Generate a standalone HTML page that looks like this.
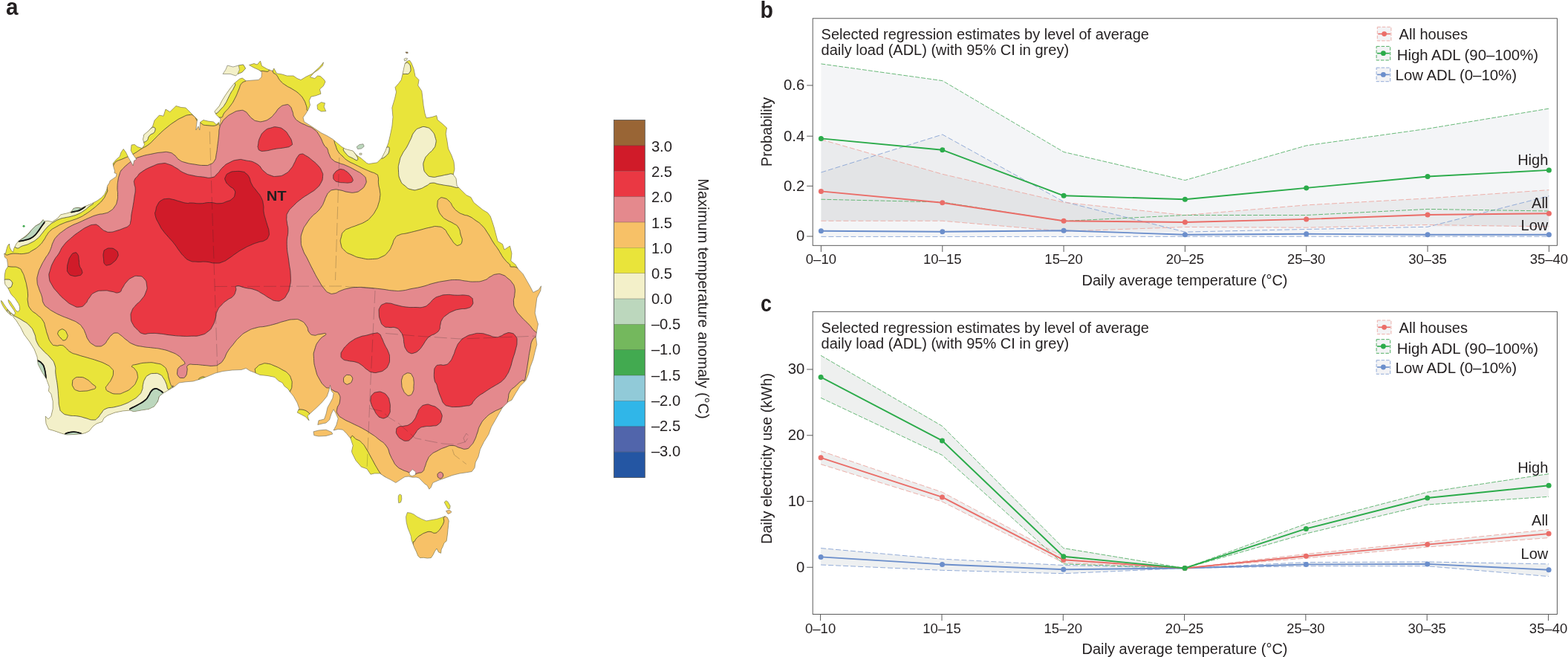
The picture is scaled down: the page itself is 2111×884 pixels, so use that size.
<!DOCTYPE html>
<html lang="en"><head><meta charset="utf-8"><title>Figure</title>
<style>html,body{margin:0;padding:0;background:#fff}body{width:2111px;height:884px;overflow:hidden}svg{display:block}text{font-family:"Liberation Sans","DejaVu Sans",sans-serif;fill:#231f20}</style></head><body>
<svg width="2111" height="884" viewBox="0 0 2111 884">
<rect width="2111" height="884" fill="#fff"/>
<g id="map"><defs><clipPath id="land"><path d="M7.5 341.1 L8.8 335.5 L10.3 330.5 L12.6 328 L13.1 333 L15.1 336.8 L17.6 339.3 L18.8 334.3 L22 328 L25.1 324.2 L31.4 319.8 L37.7 314.8 L42.7 308.9 L47.7 304.1 L54 300.4 L58 295.6 L59.7 297.8 L64.1 297.2 L70.3 298.5 L77.9 293.4 L81.7 288.8 L90.5 286.8 L95.5 285.3 L99.2 280.2 L104.3 279.2 L109.3 280 L114.3 277.7 L123.1 274.2 L130.7 270.2 L136.9 265.8 L140.7 261.4 L143.8 255.1 L144.5 250.1 L147 246.3 L148.2 243.2 L152 240.7 L156.4 237.5 L157 233.8 L153.9 232.5 L154.5 230 L153 225 L152 220 L156.2 215 L161.2 210.5 L163 205 L166.2 200.5 L169.5 205 L172.5 211.2 L176.2 217.5 L179.2 223 L180.5 216.2 L183.8 214.5 L178.8 207.5 L176.2 202.5 L177 195 L181.2 194.5 L185 197.5 L191.2 199.5 L194.5 195 L192.5 187.5 L193.8 181.2 L200 176.2 L205.5 170 L208 162 L214.5 155 L220 156.2 L223 147 L228.8 150.5 L237 142.5 L243.8 144.5 L250 145 L256.2 151.2 L262 157 L265.5 160.5 L264.5 168.8 L263.8 175 L267 170 L268.8 175 L269.5 164.5 L273.8 161.5 L280 163 L287.5 164 L291.2 167.5 L294.5 164.5 L295.5 169.5 L297 160 L291.2 154.5 L288.8 150 L295 143 L298.8 135.5 L303.8 127.5 L310 118.8 L315.5 112 L322.5 106.2 L326.2 105 L331.2 108.8 L340 108 L348 107.5 L352 103.8 L352.5 97 L348 93.8 L342 91.2 L335.5 87.5 L342 85.5 L346.2 87 L350.5 82 L352.5 88.8 L360 93 L367 95.5 L368.8 92 L372.5 98.8 L380 100 L386.2 102 L395 102 L400 105.5 L405 107.5 L412.5 103 L420 99.5 L425 95 L430.5 90 L435.5 83.8 L434.5 88 L428.8 93.8 L422.5 98 L417.5 103.8 L423.8 105.5 L427.5 102 L431.2 102.5 L436.2 107 L438 110 L435.5 115.5 L430.5 120 L432 126.2 L425 128.8 L418.8 130 L416.2 135.5 L417.5 141.2 L415 147.5 L411.2 153.8 L408 158 L409.5 163.8 L416.2 168 L425 173.8 L432.5 178.8 L440 182.5 L447.5 187 L452.5 191.2 L460 197.5 L465 200.5 L475 203 L480 208.8 L486.2 213 L493.8 219.5 L496.5 220.5 L507.8 218.8 L514 212.5 L519 202.5 L522.8 192.5 L525.2 182.5 L527.8 170 L529 157.5 L527.8 145 L531.5 132.5 L533.5 123.8 L532 117.5 L536.5 112.5 L540.2 107.5 L542 100 L543.5 92.5 L545.2 85.5 L547.8 82.5 L551.5 81.2 L554 85 L557 92.5 L559 102.5 L564 107.5 L562.8 115 L567.8 122.5 L569 132.5 L570.2 142.5 L572 152.5 L574 158.8 L581.5 157.5 L587.8 155.5 L589 161.2 L595.2 166.2 L601.5 172 L600.2 180 L602 190 L603.5 200 L607.8 208.8 L611 217.5 L612 227.5 L610.2 235 L614 240 L615.2 250 L621.5 256.2 L627.8 262.5 L634 265.5 L637.8 272.5 L644 277.5 L650.2 282.5 L656.5 286.2 L660.2 291 L662.8 298.5 L665.2 306 L667.8 316 L670.2 324.8 L676.5 328.5 L679 336 L686.5 331 L689 341 L687.8 351 L694 356 L697.8 362.2 L704 368.5 L709 377.2 L714 386 L717.8 393.5 L725.2 389.8 L728.5 384.8 L727.8 391 L722.8 401 L721.5 411 L720.2 421 L722.8 431 L724.5 436 L722.8 444.8 L721.5 453.5 L722.8 463.5 L720.2 473.5 L717.8 483.5 L714 493.5 L711.5 503.5 L707.8 512 L700.2 519.5 L694 529.5 L689 538.2 L684 540.8 L676.5 548.2 L671.5 557 L666.5 565.8 L661.5 574.5 L657.8 584.5 L651.5 594.5 L646.5 604.5 L644 614.5 L640.2 622 L639 629.5 L635.2 634.5 L627.8 635.8 L619 637 L609 639.5 L599 643.2 L591.5 645.8 L582.8 649.5 L580.2 655.8 L577.8 658.2 L575.2 653.2 L571.5 650.8 L567.8 647 L564 643 L560.2 642 L555.2 642.2 L550.2 641 L545.2 641.5 L541.5 643.8 L532.8 649.5 L526.5 645.8 L519 642 L511.5 637 L504 637 L499 638.2 L494 630.8 L486.5 628.2 L479 619.5 L474 609.5 L473.5 607 L475.2 599.5 L472 590 L466.5 583.2 L461.5 578.2 L455.2 577.5 L449 579 L452.8 572 L455.2 563.2 L452 555.8 L449 550.8 L446 557 L443.5 565 L439 569 L434 570 L427.8 571.5 L429 565.8 L436.5 564 L439 557 L441 548.2 L444.5 542 L447.8 535.8 L449 529.5 L446 525.8 L444.5 518.2 L442.8 525.8 L440.2 533.2 L434 540.8 L426.5 548.2 L419 555 L414 559.5 L416 565.8 L411.5 560.8 L405.2 557.5 L400.2 555 L402.8 549.5 L400.2 542 L395.2 533.2 L390.2 527 L387.8 523.2 L382.8 519.5 L380.2 515 L375 512.5 L370 507.5 L360 505.5 L350 504.5 L342.5 501.2 L336.2 498.8 L331.2 495.5 L325 497.5 L312.5 498 L300 499.5 L290 502 L280 506.2 L270 510 L260 513 L250 513.8 L241.2 515 L235 520 L227.5 524.5 L220 528.8 L214.5 533 L212.5 540 L207.5 547 L200 550.5 L190 552 L180 553.8 L175 552 L165 553 L155 555 L145 558.8 L140 562.5 L137.5 567.5 L130 570 L125 573.8 L120 580 L115 582.5 L110 583.8 L100 584.5 L90 585 L82.5 583 L72.5 579.5 L65.5 577.5 L62 570 L61.2 560 L65 563.8 L68.8 560 L71.2 550 L71.2 540 L68.8 530 L65.5 526.2 L66.2 520 L62.5 510 L56.2 500 L51.2 490 L50 480 L46.2 470 L40 460 L32.5 450 L27.5 440 L25.1 436.5 L22 431.4 L18.8 427.7 L17.6 425.2 L15.1 424.5 L11.3 421.4 L7.5 417 L4.4 412.6 L1.9 407.6 L1.3 404.4 L3.1 405.7 L5.7 410.1 L8.8 414.5 L12.6 418.9 L17 422.7 L18.8 423.9 L20.7 421.4 L18.8 417.6 L16.3 413.9 L13.2 409.5 L11.3 405.7 L11.1 403.2 L13.8 405.7 L16.3 409.5 L18.8 413.2 L20.7 416.4 L22 418.3 L24.5 419.5 L26.6 416.4 L26.4 412.6 L25.1 408.8 L22.6 405.1 L20.1 401.3 L17 398.2 L14.4 395 L12.6 391.2 L10.7 387.5 L6.9 382.5 L6 376.8 L6.3 369.9 L7.5 363.6 L10.7 358.6 L10.1 353.6 L9.4 348.5 L6.3 346 L5.7 341Z"/></clipPath></defs>
<g clip-path="url(#land)" stroke="#2a2a2a" stroke-width="0.7" stroke-linejoin="round">
<rect x="0" y="60" width="760" height="640" fill="#f7c167" stroke="none"/>
<path d="M150 223C151.9 229.8 151.8 220.3 156.2 217.5C160.8 214.7 159.4 216.2 165 213.8C170.6 211.3 170.1 211.8 175 209.5C179.9 207.2 176.8 208.9 181.2 206.2C185.8 203.6 184.4 204 190 200.5C195.6 197 194.8 198.4 200 194.5C205.2 190.6 203 191.8 207.5 187.5C212 183.2 209.8 184.9 215 180C220.2 175.1 219 176.1 225 171.2C231 166.4 229 167.7 235 163.8C241 159.8 239 160.8 245 158C251 155.2 250.1 155 255 154.5C259.9 154 257.9 154.2 261.2 156.2C264.6 158.3 265.1 166.1 266.2 161.2C267.4 156.4 277.4 146.4 265 140C252.6 133.6 248.2 132.5 225 140C201.8 147.5 210 148.5 187.5 165C165 181.5 161.2 177.6 150 195C138.8 212.4 148.1 216.2 150 223Z" fill="#e9e43a"/>
<path d="M268.8 160C274.8 158.9 284.3 160.1 291.2 162.5C298.2 164.9 295.4 166.1 292 168C288.6 169.9 286.2 169.3 280 168.8C273.8 168.2 274.6 168.9 271.2 166.2C267.9 163.6 262.8 161.1 268.8 160Z" fill="#e9e43a"/>
<path d="M296.2 158C301.5 158.4 298.4 155.9 302.5 151.2C306.6 146.6 305.9 148.1 310 142.5C314.1 136.9 312.9 138.9 316.2 132.5C319.6 126.1 318.6 127.2 321.2 121.2C323.9 115.2 322 116.6 325 112.5C328 108.4 332 110.5 331.2 107.5C330.5 104.5 331.9 98.8 322.5 102.5C313.1 106.2 311.2 105.8 300 120C288.8 134.2 286.1 138.6 285 150C283.9 161.4 291 157.6 296.2 158Z" fill="#e9e43a"/>
<path d="M332.5 80C339.2 77 346 75.9 355 80C364 84.1 363.2 89.1 362.5 93.8C361.8 98.4 357 95.3 352.5 95.5C348 95.7 353.5 96.2 347.5 94.5C341.5 92.8 337 94.3 332.5 90C328 85.7 325.8 83 332.5 80Z" fill="#e9e43a"/>
<path d="M367 95C368.5 101.4 369.4 97.1 372.5 101.2C375.6 105.4 373.8 104.6 377.5 108.8C381.2 112.9 380.1 111.6 385 115C389.9 118.4 388.5 116.6 393.8 120C399 123.4 398 122.1 402.5 126.2C407 130.4 405.8 128.9 408.8 133.8C411.8 138.6 410.6 137.8 412.5 142.5C414.4 147.2 411.2 147.2 415 149.5C418.8 151.8 416 158.8 425 150C434 141.2 440.5 141 445 120C449.5 99 463.2 92 440 80C416.8 68 389.4 75.5 367.5 80C345.6 84.5 365.5 88.6 367 95Z" fill="#e9e43a"/>
<path d="M18.8 341.1C27.1 341.1 26.4 342.3 33.9 341.1C41.5 339.8 38.3 339.9 44 336.8C49.6 333.6 48.2 334.6 52.8 330.5C57.3 326.4 56 327.1 59 323C62.1 318.8 60.2 320.4 62.8 316.7C65.4 312.9 64.1 313.8 67.8 310.4C71.6 307 70.1 308.4 75.4 305.4C80.7 302.4 79 303 85.4 300.4C91.8 297.7 90.3 298.8 96.7 296.6C103.1 294.3 101.1 295.4 106.8 292.8C112.4 290.2 110.3 291.2 115.6 287.8C120.9 284.4 119.5 285.3 124.4 281.5C129.3 277.7 127.8 279 131.9 275.2C136.1 271.5 135.2 272.7 138.2 268.9C141.2 265.2 140.1 266.8 142 262.7C143.8 258.5 145.6 257.4 144.5 255.1C143.3 252.9 147.6 249.5 138.2 255.1C128.8 260.8 139.5 262.7 113.1 274C86.7 285.3 82.3 277.4 50.2 292.8C18.2 308.3 19.5 311 6.3 325.5C-6.9 340 2.5 336.4 6.3 341.1C10 345.7 10.5 341.1 18.8 341.1Z" fill="#e9e43a"/>
<path d="M397.5 552.5C401.6 550.6 408.5 550 413.8 553.8C419 557.5 419.1 563.1 415 565C410.9 566.9 405.2 563.8 400 560C394.8 556.2 393.4 554.4 397.5 552.5Z" fill="#e9e43a"/>
<path d="M268 511.2C266 510.1 268.8 508.5 271.2 507.5C273.7 506.5 274.2 506.9 276.2 508C278.3 509.1 280.5 510.3 278 511.2C275.5 512.2 270 512.4 268 511.2Z" fill="#e9e43a"/>
<path d="M78 447.5C78.8 445.2 78.8 444.9 81.2 443.8C83.7 442.6 83.6 442.2 86.2 443.8C88.9 445.2 88.7 445.8 90 448.8C91.3 451.8 91.6 451 90.5 453.8C89.4 456.5 88.8 457.6 86.2 458C83.7 458.4 84.2 457 82 455C79.8 453 80 453.5 78.8 451.2C77.5 449 77.2 449.8 78 447.5Z" fill="#e9e43a"/>
<path d="M343.8 500.5C342.6 494.1 343.6 496.9 346.2 493.8C348.9 490.6 348.4 491.4 352.5 490C356.6 488.6 354.8 488.5 360 489.2C365.2 490 364 490 370 492.5C376 495 374.8 494.5 380 497.5C385.2 500.5 383.9 498.8 387.5 502.5C391.1 506.2 390.4 505.5 392 510C393.6 514.5 393.2 513 393 517.5C392.8 522 393.1 521.6 391.2 525C389.4 528.4 391.9 527.2 387 528.8C382.1 530.2 386.1 534.1 375 530C363.9 525.9 359.4 523.9 350 515C340.6 506.1 344.9 506.9 343.8 500.5Z" fill="#e9e43a"/>
<path d="M472 589.5C475 582.4 475.4 589.2 480 591.2C484.6 593.3 483.4 592.1 487.5 596.2C491.6 600.4 490 599 493.8 605C497.5 611 496.2 609.5 500 616.2C503.8 623 502.5 621.1 506.2 627.5C510 633.9 509.1 632.6 512.5 637.5C515.9 642.4 521.2 640.8 517.5 643.8C513.8 646.8 514.2 656.1 500 647.5C485.8 638.9 478.4 632.4 470 615C461.6 597.6 469 596.6 472 589.5Z" fill="#e9e43a"/>
<path d="M450 189.5C450.9 194.4 450.4 192 452 196.2C453.6 200.5 452.6 199.6 455.2 203.8C457.9 207.9 457.1 206.2 461 210C464.9 213.8 463 212.9 468.2 216.3C473.4 219.7 472.2 218.3 478.2 221.4C484.3 224.4 482.3 223.6 488.3 226.4C494.3 229.2 493.1 228.5 498.3 230.8C503.6 233 502.7 231.8 505.9 233.9C509.1 236 507.9 233.5 509 237.7C510.2 241.8 508.9 241.7 509.6 247.7C510.4 253.8 511 252.5 511.5 257.8C512.1 263.1 512.1 260.4 511.5 265.3C511 270.2 511.3 268.8 509.6 274.1C508 279.4 508.9 277.6 505.9 282.9C502.9 288.2 503.7 287.2 499.6 291.7C495.5 296.2 497.7 294.6 492.1 298C486.4 301.4 487.2 300.4 480.8 303C474.3 305.7 476 304.4 470.7 306.8C465.4 309.2 466.5 307.5 463.2 311.1C459.8 314.6 460.8 313.3 459.5 318.5C458.2 323.7 457.6 322.9 459 328.5C460.4 334.1 459.5 332.9 464 337.2C468.5 341.6 467.2 340 474 343C480.8 346 478.2 345.6 486.5 347.2C494.8 348.9 493.2 349 501.5 348.5C509.8 348 507.6 348.5 514 345.5C520.4 342.5 518.6 343.2 522.8 338.5C526.9 333.8 525.1 335 527.8 329.8C530.4 324.5 528.5 325.1 531.5 321C534.5 316.9 532.5 318.2 537.8 316C543 313.8 541.1 315.4 549 313.5C556.9 311.6 555 312 564 309.8C573 307.5 571.5 307.5 579 306C586.5 304.5 583.4 304.1 589 304.8C594.6 305.4 593.6 305 597.8 308C601.9 311 599.8 310.5 602.8 314.8C605.8 319 604.8 318.1 607.8 322.2C610.8 326.4 609.8 326.2 612.8 328.5C615.8 330.8 615 330.9 617.8 329.8C620.5 328.6 621.2 328.9 622 324.8C622.8 320.6 621.8 321.6 620.2 316C618.8 310.4 620 310.6 617 306C614 301.4 614.9 303.5 610.2 300.5C605.6 297.5 606 298.9 601.5 296C597 293.1 598.6 295.1 595.2 291C591.9 286.9 592.1 287.7 590.2 282.5C588.4 277.3 588.6 278.2 589 273.8C589.4 269.2 588.9 269.7 591.5 267.5C594.1 265.3 593.6 265.4 597.8 266.5C601.9 267.6 601.5 267.6 605.2 271.2C609 274.9 606.9 274.6 610.2 278.8C613.6 282.9 612.4 282 616.5 285C620.6 288 619.5 286.9 624 288.8C628.5 290.6 626.6 288.7 631.5 291C636.4 293.3 635 292.8 640.2 296.5C645.5 300.2 644.1 298.4 649 303.5C653.9 308.6 652 306.8 656.5 313.5C661 320.2 659.9 319.6 664 326C668.1 332.4 667.2 330.2 670.2 334.8C673.2 339.2 671.4 336.9 674 341C676.6 345.1 675.6 344.4 679 348.5C682.4 352.6 681.4 351.6 685.2 354.8C689.1 357.9 683.4 359.4 692 359C700.6 358.6 707.4 381.4 714 353.5C720.6 325.6 721.5 328.6 714 266C706.5 203.4 726.5 203.8 689 145C651.5 86.2 641.5 92.5 589 70C536.5 47.5 547.8 36.2 514 70C480.2 103.8 496 149.5 476.5 182.5C457 215.5 456.9 177.9 449 180C441.1 182.1 449.1 184.6 450 189.5Z" fill="#e9e43a"/>
<path d="M3.8 359C9.8 356.9 8.6 358.6 15 359C21.4 359.4 20.5 358.4 25 360.5C29.5 362.6 27.4 361.4 30 366C32.6 370.6 31.9 370 33.8 376C35.6 382 35.1 380 36.2 386C37.4 392 37.1 390 37.5 396C37.9 402 36.4 400 37.5 406C38.6 412 37.5 410.8 41.2 416C45 421.2 45.1 419 50 423.5C54.9 428 54.1 425.8 57.5 431C60.9 436.2 59.4 435.3 61.2 441C63.1 446.7 61.5 443.9 63.8 450C66 456.1 65.4 456.8 68.8 461.2C72.1 465.8 70.9 464 75 465C79.1 466 78.8 463.9 82.5 464.5C86.2 465.1 83.8 464.2 87.5 467C91.2 469.8 89.8 470.6 95 473.8C100.2 476.9 98.2 475.2 105 477.5C111.8 479.8 110 479 117.5 481.2C125 483.5 122.5 482.4 130 485C137.5 487.6 136.5 486.9 142.5 490C148.5 493.1 147 492.1 150 495.5C153 498.9 152.5 496.9 152.5 501.2C152.5 505.6 152.2 505.1 150 510C147.8 514.9 147.2 513.8 145 517.5C142.8 521.2 141.8 519.5 142.5 522.5C143.2 525.5 143 525.2 147.5 527.5C152 529.8 151.5 530 157.5 530C163.5 530 161.5 530.1 167.5 527.5C173.5 524.9 172.6 525.8 177.5 521.2C182.4 516.8 181.5 517.8 183.8 512.5C186 507.2 185.8 508.6 185 503.8C184.2 498.9 183.5 499.6 181.2 496.2C179 492.9 176.4 494.4 177.5 492.5C178.6 490.6 179 491.4 185 490C191 488.6 190 488.4 197.5 488C205 487.6 203.2 487.4 210 488.8C216.8 490.1 215.5 489.1 220 492.5C224.5 495.9 222.8 494.8 225 500C227.2 505.2 225.6 504 227.5 510C229.4 516 229 515.9 231.2 520C233.5 524.1 236.9 516.2 235 523.8C233.1 531.2 243 528.1 225 545C207 561.9 220 563.5 175 580C130 596.5 116.2 604.5 75 600C33.8 595.5 56.2 613 37.5 565C18.8 517 25.2 484.7 12.5 440C-0.2 395.3 0.2 438.2 -5 416C-10.2 393.8 -7.6 383.1 -5 366C-2.4 348.9 -2.2 361.1 3.8 359Z" fill="#e9e43a"/>
<path d="M97.5 515C97.9 511.5 97 511.8 100 509.5C103 507.2 102.6 507.4 107.5 507.5C112.4 507.6 111.4 507.4 116.2 510C121.1 512.6 120 512.9 123.8 516.2C127.5 519.6 129.1 518.8 128.8 521.2C128.4 523.7 127.4 523 122.5 524.5C117.6 526 118.1 526 112.5 526.2C106.9 526.5 107.9 527 103.8 525.5C99.6 524 100.6 524.4 98.8 521.2C96.9 518.1 97.1 518.5 97.5 515Z" fill="#f7c167"/>
<path d="M536.5 230C536.1 222.5 536.2 224.2 537.8 217.5C539.2 210.8 538.5 213.5 541.5 207.5C544.5 201.5 544.4 203.5 547.8 197.5C551.1 191.5 549.8 193.5 552.8 187.5C555.8 181.5 554 182.2 557.8 177.5C561.5 172.8 560.4 173.9 565.2 172C570.1 170.1 569.1 170 574 171.2C578.9 172.5 577.9 172.1 581.5 176.2C585.1 180.4 584.5 179.8 586 185C587.5 190.2 587.5 188.9 586.5 193.8C585.5 198.6 585.8 197.1 582.8 201.2C579.8 205.4 579.9 203.4 576.5 207.5C573.1 211.6 573.4 209.8 571.5 215C569.6 220.2 569.5 219.4 570.2 225C571 230.6 570.6 229.8 574 233.8C577.4 237.7 576.2 237 581.5 238C586.8 239 585.5 237.9 591.5 237C597.5 236.1 595.9 235.8 601.5 235C607.1 234.2 605 233 610.2 234.5C615.5 236 616.4 235 619 240C621.6 245 623.5 248.2 619 251.2C614.5 254.2 612.2 251 604 250C595.8 249 598.2 249.1 591.5 248C584.8 246.9 586.8 245.7 581.5 246.2C576.2 246.8 579.2 247.5 574 250C568.8 252.5 570 253 564 254.5C558 256 559.6 256.4 554 255C548.4 253.7 549.8 253.8 545.2 250C540.8 246.2 541.6 248.5 539 242.5C536.4 236.5 536.9 237.5 536.5 230Z" fill="#f3f0c9"/>
<path d="M540.2 97.5C538.9 94.7 540.3 93.8 542 90C543.7 86.2 543.5 86.3 546 85C548.5 83.7 548.2 83.6 550.2 85.5C552.3 87.4 552.4 87.7 552.8 91.2C553.1 94.8 553.4 95 551.5 97.5C549.6 100 549.9 99.5 546.5 99.5C543.1 99.5 541.6 100.3 540.2 97.5Z" fill="#f3f0c9"/>
<path d="M462.8 199.5C464.2 197.4 467 198.5 471.5 200.5C476 202.5 474.8 201.9 477.8 206.2C480.8 210.6 482.6 213.1 481.5 215C480.4 216.9 478.5 214.8 474 212.5C469.5 210.2 469.9 211.4 466.5 207.5C463.1 203.6 461.2 201.6 462.8 199.5Z" fill="#f3f0c9"/>
<path d="M512.8 212.5C511.5 211 512.6 209.3 515.2 205C517.9 200.7 518.9 198.8 521.5 198C524.1 197.2 524.6 198.9 524 202.5C523.4 206.1 522.9 207 519.5 210C516.1 213 514 214 512.8 212.5Z" fill="#f3f0c9"/>
<path d="M290 153C293.9 151.9 294.1 150.2 298 146.2C301.9 142.3 300.3 144.1 303 140C305.7 135.9 304.7 137 307 132.5C309.3 128 308.5 129.1 310.8 125C313 120.9 312.9 122.5 314.5 118.8C316.1 115 317.6 114.4 316.2 112.5C314.9 110.6 315.6 107.2 310 112.5C304.4 117.8 305 118.8 297.5 130C290 141.2 287.2 143.1 285 150C282.8 156.9 286.1 154.1 290 153Z" fill="#f3f0c9"/>
<path d="M191.2 189.5C189.9 187 190.4 185.4 193 181.2C195.6 177.1 195.8 178.5 200 175.5C204.2 172.5 204.6 170.7 207 171.2C209.4 171.8 209.7 174.1 208 177.5C206.3 180.9 204.4 178.9 201.2 182.5C198.1 186.1 200.5 187.4 197.5 189.5C194.5 191.6 192.6 192 191.2 189.5Z" fill="#f3f0c9"/>
<path d="M20.1 332.4C25.8 336.2 25 332.2 31.4 330.5C37.8 328.8 35.8 329.6 41.5 326.7C47.1 323.9 45.7 324.8 50.2 321.1C54.8 317.3 53.1 318.1 56.5 314.2C59.9 310.2 58.5 311.3 61.6 307.9C64.6 304.5 63.2 305.7 66.6 302.9C70 300 68.7 300.9 72.9 298.5C77 296 75.9 296.4 80.4 294.7C84.9 293 83 293.9 87.9 292.8C92.8 291.7 91.5 292.4 96.7 290.9C102 289.4 100.6 290.1 105.5 287.8C110.4 285.5 108.9 286.2 113.1 283.4C117.2 280.6 115.8 281.4 119.3 278.4C122.9 275.4 126.9 274.7 125 273.3C123.1 272 135.5 268.1 113.1 274C90.6 279.8 80.4 279.6 50.2 292.8C20.1 306 21.6 306.1 12.6 317.9C3.5 329.8 14.4 328.6 20.1 332.4Z" fill="#f3f0c9"/>
<path d="M5 378.5C5.9 375.5 6.8 376 10 376C13.2 376 13.6 376.2 15.5 378.5C17.4 380.8 17.1 380.9 16.2 383.5C15.3 386.1 15.3 386.5 12.5 387.2C9.7 388 9.2 388.6 7 386C4.8 383.4 4.1 381.5 5 378.5Z" fill="#f3f0c9"/>
<path d="M15 422.2C16.9 417.7 14.2 422.1 18.8 424.8C23.2 427.4 23.6 426.9 30 431C36.4 435.1 35.1 433.2 40 438.5C44.9 443.8 43.2 441.8 46.2 448.5C49.2 455.2 46.6 454.2 50 461C53.4 467.8 52.2 465 57.5 471C62.8 477 62.6 475 67.5 481C72.4 487 71.5 484.2 73.8 491C76 497.8 73.9 494.8 75 503.5C76.1 512.2 76.4 510.6 77.5 520C78.6 529.5 78 526.8 78.8 535C79.5 543.2 78.5 541.5 80 547.5C81.5 553.5 80 551.6 83.8 555C87.5 558.4 86.1 557.2 92.5 558.8C98.9 560.2 98.2 558.9 105 560C111.8 561.1 109 561 115 562.5C121 564 120.1 565 125 565C129.9 565 127.9 565.1 131.2 562.5C134.6 559.9 132.9 560 136.2 556.2C139.6 552.5 136.9 552.6 142.5 550C148.1 547.4 147.5 549.4 155 547.5C162.5 545.6 160.8 546.4 167.5 543.8C174.2 541.1 171.9 542.1 177.5 538.8C183.1 535.4 182.1 536.6 186.2 532.5C190.4 528.4 189.4 529.5 191.2 525C193.1 520.5 191.4 522 192.5 517.5C193.6 513 192.8 513.9 195 510C197.2 506.1 196.2 506.8 200 504.5C203.8 502.2 203 502.7 207.5 502.5C212 502.3 211.2 501.9 215 503.8C218.8 505.6 217.4 505 220 508.8C222.6 512.5 221.9 511.8 223.8 516.2C225.6 520.8 224.4 520.8 226.2 523.8C228.1 526.8 237.9 509.4 230 526.2C222.1 543.1 246.5 557.9 200 580C153.5 602.1 123.8 604.5 75 600C26.2 595.5 56.2 613 37.5 565C18.8 517 19.2 482.8 12.5 440C5.8 397.2 13.1 426.8 15 422.2Z" fill="#f3f0c9"/>
<path d="M23.9 324.9C22.7 324.1 27.3 323.3 31.4 320.4C35.6 317.6 34.3 318.8 37.7 315.4C41.1 312 39.7 312.5 42.7 309.1C45.7 305.8 44.3 306.8 47.7 304.1C51.1 301.5 50.8 303 54 300.4C57.2 297.7 56.6 295.6 58.4 295.3C60.2 295 61 296.3 60 299.4C59.1 302.4 58.2 301.3 55.3 305.4C52.3 309.4 53.6 308.8 50.2 312.9C46.9 317.1 48.5 316.2 44 319.2C39.4 322.2 41.2 321.3 35.2 323C29.1 324.7 25 325.6 23.9 324.9Z" fill="#bcd7bd"/>
<path d="M94.8 285.5C93.7 284.3 96.4 282.1 99.2 280.2C102.1 278.4 101.3 279.3 104.3 279.2C107.3 279.2 106.1 280.5 109.3 280C112.5 279.5 115 276.8 115 277.5C115 278.1 112.9 280.1 109.3 282.1C105.7 284.2 107.4 283.3 103 284.3C98.7 285.3 96 286.7 94.8 285.5Z" fill="#bcd7bd"/>
<path d="M175 550.5C176.5 547.6 179 548.5 185 545C191 541.5 190.5 542.5 195 538.8C199.5 535 197.4 536.2 200 532.5C202.6 528.8 201.1 529.1 203.8 526.2C206.4 523.4 205.4 523.4 208.8 523C212.1 522.6 211.6 523.2 215 525C218.4 526.8 220 526.6 220 529C220 531.4 217.2 529.7 215 533C212.8 536.3 214.8 535.6 212.5 540C210.2 544.4 211.2 544.1 207.5 547.5C203.8 550.9 205.2 549.6 200 551.2C194.8 552.9 196 552 190 553C184 554 184.5 555.2 180 554.5C175.5 553.8 173.5 553.4 175 550.5Z" fill="#bcd7bd"/>
<path d="M48.8 483.8C51 484.1 52.9 485 56.2 488.8C59.6 492.5 58.3 490 60 496.2C61.7 502.5 62.8 506.9 62 509.5C61.2 512.1 60.4 509.4 57.5 505C54.6 500.6 55.1 500.2 52.5 495C49.9 489.8 49.9 490.9 48.8 487.5C47.6 484.1 46.5 483.4 48.8 483.8Z" fill="#bcd7bd"/>
<path d="M86.2 585C87 583.4 88.4 583.1 92.5 582C96.6 580.9 95.1 581 100 581.2C104.9 581.5 105.4 581.5 108.8 583C112.1 584.5 113.9 584.9 111.2 586.2C108.6 587.6 106.4 587.1 100 587.5C93.6 587.9 94.1 588.2 90 587.5C85.9 586.8 85.5 586.6 86.2 585Z" fill="#bcd7bd"/>
<path d="M25.8 324.5C28.6 323.9 29.7 324.4 35.2 322.7C40.6 321.1 39.4 322 44 318.9C48.5 315.9 46.9 316.7 50.2 312.7C53.6 308.6 52.5 309.4 55.3 305.4C58.1 301.4 58.4 301.2 59.7 299.4" fill="none" stroke="#111" stroke-width="1.8" stroke-linecap="round"/>
<path d="M95.7 285.3C97.9 284.9 98.9 285.1 103 284C107.1 283 105.8 283.6 109.3 281.8C112.8 280 113 279.1 114.6 278" fill="none" stroke="#111" stroke-width="1.8" stroke-linecap="round"/>
<path d="M175 550C178 548.5 179 548.4 185 545C191 541.6 190.5 542.5 195 538.8C199.5 535 197.4 536.2 200 532.5C202.6 528.8 201.1 529.1 203.8 526.2C206.4 523.4 205.4 523.4 208.8 523C212.1 522.6 212 523.5 215 525C218 526.5 217.6 527.1 218.8 528" fill="none" stroke="#111" stroke-width="1.8" stroke-linecap="round"/>
<path d="M51.2 485.5C52.8 486.5 53.6 485.5 56.2 488.8C58.9 492 58.4 490.2 60 496.2C61.6 502.2 61.2 505 61.8 508.8" fill="none" stroke="#111" stroke-width="1.8" stroke-linecap="round"/>
<path d="M88 583.8C89.3 583.2 88.9 582.8 92.5 582C96.1 581.2 95.1 581 100 581.2C104.9 581.5 106.1 582.5 108.8 583" fill="none" stroke="#111" stroke-width="1.8" stroke-linecap="round"/>
<path d="M29.5 446.2C30.2 448.1 30.2 449.1 32 452.5C33.8 455.9 34.5 456 35.5 457.5" fill="none" stroke="#111" stroke-width="1.8" stroke-linecap="round"/>
<path d="M65.3 341.1C67.5 337.2 66.6 338.9 68.5 334.3C70.4 329.6 69.2 330.4 71.6 325.5C74.1 320.6 72.5 322.5 76.6 317.9C80.8 313.4 79.8 314.5 85.4 310.4C91.1 306.3 89.1 307.5 95.5 304.1C101.9 300.7 99.6 302.3 106.8 299.1C113.9 295.9 112.2 296.5 119.3 293.4C126.5 290.4 124.2 290.9 130.7 289.1C137.1 287.2 135.4 288.7 140.7 287.2C146 285.7 144.1 286.8 148.2 284C152.4 281.2 151.7 281.9 154.5 277.7C157.3 273.6 156.5 275.1 157.7 270.2C158.9 265.3 158.4 266.7 158.5 261.4C158.7 256.1 157.9 258.3 158 252.6C158.2 247 158.1 247.8 158.9 242.6C159.7 237.3 159.7 238.8 160.8 235C161.9 231.3 161.4 232.3 162.7 230C163.9 227.7 162.8 229.8 165 227.5C167.2 225.2 165.5 226.2 170 222.5C174.5 218.8 174 218.6 180 215C186 211.4 182.5 212.9 190 210.5C197.5 208.1 196.8 208.7 205 207C213.2 205.3 210.8 205.6 217.5 205C224.2 204.4 222.2 203.9 227.5 205C232.8 206.1 230.9 205.8 235 208.8C239.1 211.8 236.8 212 241.2 215C245.8 218 243.6 216.9 250 218.8C256.4 220.6 255 220.1 262.5 221.2C270 222.4 269 222.5 275 222.5C281 222.5 278.4 223.1 282.5 221.2C286.6 219.4 286.1 220.4 288.8 216.2C291.4 212.1 290 213.9 291.2 207.5C292.5 201.1 292 202.5 293 195C294 187.5 293.8 189.2 294.5 182.5C295.2 175.8 294.2 177.8 295.5 172.5C296.8 167.2 296.3 169.1 298.8 165C301.2 160.9 299.6 162.5 303.8 158.8C307.9 155 306.9 155.5 312.5 152.5C318.1 149.5 317.2 149.5 322.5 148.8C327.8 148 326.2 148.1 330 150C333.8 151.9 332 152 335 155C338 158 336.6 157.6 340 160C343.4 162.4 341.8 162.1 346.2 163C350.8 163.9 349.8 164.3 355 163C360.2 161.7 359.2 161.9 363.8 158.8C368.2 155.6 366.2 156.6 370 152.5C373.8 148.4 372.1 148.4 376.2 145C380.4 141.6 379.6 142 383.8 141.2C387.9 140.5 387 139.9 390 142.5C393 145.1 391.9 145.5 393.8 150C395.6 154.5 393.6 153.4 396.2 157.5C398.9 161.6 397.6 160.4 402.5 163.8C407.4 167.1 406.5 165.8 412.5 168.8C418.5 171.8 417.2 169.6 422.5 173.8C427.8 177.9 425.9 176.1 430 182.5C434.1 188.9 433.1 189.8 436.2 195C439.4 200.2 438.5 196.2 440.6 200C442.6 203.8 440.8 203 443.1 207.5C445.3 212.1 443.9 211.5 448.1 215.1C452.2 218.7 451.6 217.2 456.9 219.5C462.2 221.7 459.3 219.8 465.7 222.6C472.1 225.4 471.5 225.1 478.2 228.9C485 232.7 484 231.4 488.3 235.2C492.6 239 491.7 237.3 492.7 241.5C493.6 245.6 493.5 244.8 491.4 249C489.4 253.1 489.7 252.3 485.8 255.3C481.8 258.2 483.5 257.8 478.2 258.8C473 259.7 474.2 259.3 468.2 258.4C462.2 257.6 463.8 256.8 458.1 255.9C452.5 255 453.9 254.5 449.4 255.3C444.8 256 446.1 255.8 443.1 258.4C440.1 261.1 441.4 260.1 439.3 264.1C437.2 268 438 267.5 436.2 271.6C434.3 275.8 435.8 273.7 433 277.9C430.2 282 430.5 281.5 426.7 285.4C423 289.3 424.6 286.4 420.4 290.9C416.3 295.5 416.9 294.5 412.9 300.5C409 306.5 409.6 304.2 407.3 311.1C405 318 405.1 316 405.2 323.5C405.4 331 405.1 328.5 407.8 336C410.4 343.5 409.9 340.2 414 348.5C418.1 356.8 417 354.9 421.5 363.5C426 372.1 424.5 369.8 429 377.2C433.5 384.8 432.4 383.5 436.5 388.5C440.6 393.5 438.6 392.1 442.8 394C446.9 395.9 445.4 395.6 450.2 394.8C455.1 393.9 453.4 393 459 391C464.6 389 462.2 389.4 469 388C475.8 386.6 473.2 386.7 481.5 386.5C489.8 386.3 486.8 386.5 496.5 387.2C506.2 388 504.2 387.9 514 389C523.8 390.1 520.8 390.4 529 391C537.2 391.6 534 391.8 541.5 391C549 390.2 545.8 390.1 554 388.5C562.2 386.9 560 387.8 569 385.5C578 383.2 575 383.2 584 381C593 378.8 590 379.4 599 378C608 376.6 605.8 376.5 614 376.5C622.2 376.5 619 377.2 626.5 378C634 378.8 631.5 379.2 639 379C646.5 378.8 645.1 379.3 651.5 377.2C657.9 375.2 655.4 374.7 660.2 372.2C665.1 369.8 662.9 369.8 667.8 369C672.6 368.2 671.6 368 676.5 369.8C681.4 371.5 680.2 371.8 684 374.8C687.8 377.8 686.4 376 689 379.8C691.6 383.5 691.6 382 692.8 387.2C693.9 392.5 693.1 391.6 692.8 397.2C692.4 402.9 691.1 400.4 691.5 406C691.9 411.6 691 410 694 416C697 422 696.2 420 701.5 426C706.8 432 706.6 430.8 711.5 436C716.4 441.2 714 439 717.8 443.5C721.5 448 724.2 446.9 724 451C723.8 455.1 720.1 451.2 717 457.2C713.9 463.2 715.3 462.4 713.5 471C711.7 479.6 712.5 477 711 486C709.5 495 710 493.2 708.5 501C707 508.8 707.7 508.7 706 512C704.3 515.3 706.4 509.8 702.8 512C699.1 514.2 698.9 515 694 519.5C689.1 524 689.5 521.8 686.5 527C683.5 532.2 685.5 531.8 684 537C682.5 542.2 684.5 540.8 681.5 544.5C678.5 548.2 679.2 546.5 674 549.5C668.8 552.5 670 550.8 664 554.5C658 558.2 659.2 556.8 654 562C648.8 567.2 649.9 566 646.5 572C643.1 578 645 576 642.8 582C640.5 588 641.6 586.8 639 592C636.4 597.2 637.4 595.9 634 599.5C630.6 603.1 632.2 603.1 627.8 604C623.2 604.9 624.6 603.9 619 602.5C613.4 601.1 615 599.6 609 599.5C603 599.4 605 599.9 599 602C593 604.1 594.6 603.5 589 606.5C583.4 609.5 584.4 608.1 580.2 612C576.1 615.9 577.7 614.6 575.2 619.5C572.8 624.4 573.9 623.8 572 628.2C570.1 632.8 571.8 632 569 634.5C566.2 637 566.5 635.4 562.8 636.5C559 637.6 560.6 638.7 556.5 638.2C552.4 637.8 553.5 636.9 549 635C544.5 633.1 546 634.4 541.5 632C537 629.6 537.8 630.8 534 627C530.2 623.2 531.6 624 529 619.5C526.4 615 528 617.9 525.2 612C522.5 606.1 524.6 606.2 520 600C515.4 593.8 516 596.1 510 591.2C504 586.4 506.8 588.2 500 583.8C493.2 579.2 495 580.4 487.5 576.2C480 572.1 482.5 573.8 475 570C467.5 566.2 468.5 567.5 462.5 563.8C456.5 560 457.6 561.6 455 557.5C452.4 553.4 453 555.2 453.8 550C454.5 544.8 456.8 546 457.5 540C458.2 534 458.5 534.1 456.2 530C454 525.9 453.8 528.5 450 526.2C446.2 524 447.5 524.4 443.8 522.5C440 520.6 441.6 523.8 437.5 520C433.4 516.2 433.8 516.8 430 510C426.2 503.2 427.2 505.8 425 497.5C422.8 489.2 422.9 490.8 422.5 482.5C422.1 474.2 421.5 477.5 423.8 470C426 462.5 425.5 463.6 430 457.5C434.5 451.4 438.8 451.8 438.8 449.5C438.8 447.2 434.9 449.3 430 449.8C425.1 450.2 426.6 451.8 422.5 451C418.4 450.2 419.2 451 416.2 447.2C413.2 443.5 415.9 443.2 412.5 438.5C409.1 433.8 410.2 434.1 405 431.5C399.8 428.9 401.8 429.5 395 429.8C388.2 430 390 430.4 382.5 432.2C375 434.1 377.5 434 370 436C362.5 438 365 437.5 357.5 439C350 440.5 352.5 438.9 345 441C337.5 443.1 339.2 442.2 332.5 446C325.8 449.8 328.1 448.2 322.5 453.5C316.9 458.8 318.6 457.5 313.8 463.5C308.9 469.5 310 467.5 306.2 473.5C302.5 479.5 304.6 478.6 301.2 483.5C297.9 488.4 299.1 487.1 295 489.8C290.9 492.4 293.5 491.7 287.5 492.2C281.5 492.8 282.5 492 275 491.5C267.5 491 269.1 490.5 262.5 490.5C255.9 490.5 256.1 489.1 253 491.5C249.8 493.9 252.9 494.1 252 498.5C251.1 502.9 252.1 503 250 506C247.9 509 248 508.5 245 508.5C242 508.5 241.9 508.6 240 506C238.1 503.4 238.4 503.4 238.8 499.8C239.1 496.1 239 496.6 241.2 494C243.5 491.4 244 492.6 246.2 491C248.5 489.4 249.1 490.8 248.8 488.5C248.4 486.2 247.6 486.5 245 483.5C242.4 480.5 244.5 481.5 240 478.5C235.5 475.5 236.8 476.1 230 473.5C223.2 470.9 225 471.4 217.5 469.8C210 468.1 212.5 469 205 468C197.5 467 200 467.9 192.5 466.5C185 465.1 186.8 466.3 180 463.5C173.2 460.7 175.2 461 170 457.2C164.8 453.5 166.6 453.8 162.5 451C158.4 448.2 160 448 156.2 448C152.5 448 153.4 448.2 150 451C146.6 453.8 148 453.5 145 457.2C142 461 143.8 460.9 140 463.5C136.2 466.1 137 466 132.5 466C128 466 129.1 466.1 125 463.5C120.9 460.9 121.8 461.8 118.8 457.2C115.8 452.8 117.2 453.4 115 448.5C112.8 443.6 114.2 445.1 111.2 441C108.2 436.9 109.9 438.1 105 434.8C100.1 431.4 101.8 432.8 95 429.8C88.2 426.8 89.2 427.8 82.5 424.8C75.8 421.8 77.8 422.8 72.5 419.8C67.2 416.8 69.1 418.1 65 414.8C60.9 411.4 61.4 413.4 58.8 408.5C56.1 403.6 58.1 404.5 56.2 398.5C54.4 392.5 54.4 394.5 52.5 388.5C50.6 382.5 50.4 384.5 50 378.5C49.6 372.5 49.8 374.5 51.2 368.5C52.8 362.5 52 364.9 55 358.5C58 352.1 58.2 352.5 61.2 347.2C64.3 342 63.2 345 65.3 341.1Z" fill="#e4898d"/>
<path d="M589 639.5C588.9 637.2 589.4 637.1 591 636C592.6 634.9 592.9 634.9 594.5 635.8C596.1 636.6 596.3 637 596.5 639C596.7 641 596.8 641.1 595.2 642.5C593.8 643.9 593.4 644.4 591.5 643.5C589.6 642.6 589.1 641.8 589 639.5Z" fill="#e4898d"/>
<path d="M462.5 511.2C462.4 508.2 462.6 508.3 464.5 506.2C466.4 504.2 466 504.3 468.8 504.5C471.5 504.7 472.2 504.6 473.8 507C475.2 509.4 474.9 509.7 473.8 512.5C472.6 515.3 472.6 515.1 470 516.2C467.4 517.4 467.2 517.8 465 516.2C462.8 514.8 462.6 514.2 462.5 511.2Z" fill="#f7c167"/>
<path d="M540.8 517C540.4 512.2 540.1 512.5 541.5 508.5C542.9 504.4 542.2 505.4 545.2 503.5C548.2 501.6 548.5 501.5 551.5 502.2C554.5 503 553.6 503.1 555.2 506C556.9 508.9 556.5 507.9 557 512C557.5 516 557.3 515 557 519.5C556.7 524 557.6 523.2 556 527C554.4 530.8 554.4 531.1 551.5 532C548.6 532.9 549.1 532.2 546.5 530C543.9 527.8 544.5 528.4 542.8 524.5C541 520.6 541.1 521.8 540.8 517Z" fill="#f7c167"/>
<path d="M79.2 341.1C83 334.9 80.5 336.7 85.4 330.5C90.3 324.3 89.1 326.1 95.5 320.4C101.9 314.8 100 316.4 106.8 311.7C113.6 307 112.1 307.6 118.1 304.8C124.1 301.9 122.7 302.6 126.9 302.2C131 301.9 128.9 301.8 131.9 303.5C134.9 305.2 133.9 305.6 136.9 307.9C139.9 310.2 138.6 309.7 142 311C145.4 312.3 143.7 312.5 148.2 312.3C152.8 312.1 151.8 311.9 157 310.4C162.3 308.9 160.9 309.3 165.8 307.3C170.7 305.2 170.4 306.3 173.4 303.5C176.4 300.7 174.7 302.5 175.9 297.8C177 293.1 176.2 293.8 177.1 287.8C178.1 281.8 177.9 284.5 179 277.7C180.1 271 180 272 180.9 265.2C181.8 258.4 182.2 260.4 182.2 255.1C182.2 249.9 181.3 251.4 180.9 247.6C180.5 243.8 179.8 245.6 180.9 242.6C182 239.5 181.7 240.9 184.7 237.5C187.7 234.1 184.9 235.4 190.9 231.3C197 227.1 197 227.1 205 223.8C213 220.4 210.8 220.8 217.5 220C224.2 219.2 221.5 219.4 227.5 221.2C233.5 223.1 231.5 222.9 237.5 226.2C243.5 229.6 240.8 229.5 247.5 232.5C254.2 235.5 252.5 234.6 260 236.2C267.5 237.9 265 237.2 272.5 238C280 238.8 279 240 285 238.8C291 237.5 288 237.9 292.5 233.8C297 229.6 295.1 229.5 300 225C304.9 220.5 302.8 221.8 308.8 218.8C314.8 215.8 313.6 215.9 320 215C326.4 214.1 322.5 214.2 330 215.7C337.5 217.2 337.5 215.8 345.1 220.1C352.6 224.4 349.5 225.4 355.1 230.2C360.8 234.9 358.3 233.7 363.9 235.8C369.6 237.9 367.9 237.6 374 237.1C380 236.5 378.7 236.9 384 233.9C389.3 230.9 387.8 231.5 391.6 227C395.3 222.5 393.9 223.6 396.6 218.8C399.2 214.1 397.7 214.8 400.4 211.3C403 207.8 402 207.9 405.4 207.3C408.8 206.7 407.1 206.9 411.7 209.4C416.2 211.9 415.6 211.7 420.4 215.7C425.3 219.7 424.2 218.3 428 222.6C431.8 226.9 431.1 225.6 433 230.2C435 234.7 434.9 232.8 434.5 237.7C434.1 242.6 434.5 241.6 431.8 246.5C429 251.4 430 249.9 425.5 254C421 258.2 422.7 256.2 416.7 260.3C410.6 264.4 411.8 262.9 405.4 267.8C399 272.7 400.6 271.4 395.3 276.6C390.1 281.9 390.6 280.5 387.8 285.4C385 290.3 386.3 288.4 385.9 293C385.5 297.5 386 295.1 386.5 300.5C387.1 305.9 387.9 302.7 387.8 311.1C387.7 319.5 386 316.5 386.2 328.5C386.5 340.5 387.2 338.2 388.8 351C390.2 363.8 390.9 360.5 391.2 371C391.6 381.5 391.5 378.5 390 386C388.5 393.5 389.2 390.9 386.2 396C383.2 401.1 384.5 400.4 380 403C375.5 405.6 376.5 405.4 371.2 404.8C366 404.1 368.1 404 362.5 401C356.9 398 358.5 398.1 352.5 394.8C346.5 391.4 349.2 392 342.5 389.8C335.8 387.5 337.1 388.8 330 387.2C322.9 385.8 322.5 383.6 318.8 384.8C315 385.9 319 386.9 317.5 391C316 395.1 317.1 394.8 313.8 398.5C310.4 402.2 310.8 400.1 306.2 403.5C301.8 406.9 302.9 405.2 298.8 409.8C294.6 414.2 295.1 412.9 292.5 418.5C289.9 424.1 291.9 422.5 290 428.5C288.1 434.5 289.2 433.2 286.2 438.5C283.2 443.8 284.9 442.2 280 446C275.1 449.8 276.8 449.1 270 451C263.2 452.9 265 451.9 257.5 452.2C250 452.6 253.2 452.6 245 452.2C236.8 451.9 239 452 230 451C221 450 223.2 449.8 215 449C206.8 448.2 209.2 448.5 202.5 448.5C195.8 448.5 197.8 450.5 192.5 449C187.2 447.5 189.1 447.4 185 443.5C180.9 439.6 181.4 440.9 178.8 436C176.1 431.1 176.6 432.5 176.2 427.2C175.9 422 175.6 423.4 177.5 418.5C179.4 413.6 178.8 415.5 182.5 411C186.2 406.5 185.9 408.8 190 403.5C194.1 398.2 194 399.5 196.2 393.5C198.5 387.5 198.2 389.1 197.5 383.5C196.8 377.9 197.1 378.4 193.8 374.8C190.4 371.1 191.1 371.9 186.2 371.5C181.4 371.1 182.4 371 177.5 373.5C172.6 376 173.8 375.6 170 379.8C166.2 383.9 168 383.1 165 387.2C162 391.4 164.5 392 160 393.5C155.5 395 156 393 150 392.2C144 391.5 146.8 390.6 140 391C133.2 391.4 133.5 390.5 127.5 393.5C121.5 396.5 123.8 396.5 120 401C116.2 405.5 118.8 404.9 115 408.5C111.2 412.1 112.8 412.4 107.5 413C102.2 413.6 103.5 413.4 97.5 410.5C91.5 407.6 93.5 408.6 87.5 403.5C81.5 398.4 82.8 399.5 77.5 393.5C72.2 387.5 73.4 389.5 70 383.5C66.6 377.5 67 379.5 66.2 373.5C65.5 367.5 65.6 370.2 67.5 363.5C69.4 356.8 69 357.7 72.5 351C76 344.3 75.3 347.2 79.2 341.1Z" fill="#ea3843"/>
<path d="M347.5 195C348.2 190.9 347.4 190.6 350 185C352.6 179.4 351.8 180.2 356.2 176.2C360.8 172.3 359.8 173.5 365 172C370.2 170.5 368.5 170.3 373.8 171.2C379 172.2 378 171.6 382.5 175C387 178.4 385.6 177.6 388.8 182.5C391.9 187.4 392.2 187.1 393 191.2C393.8 195.4 394.4 194 391.2 196.2C388.1 198.5 388.9 197.5 382.5 198.8C376.1 200 377.5 199.2 370 200.5C362.5 201.8 363.5 202.4 357.5 203C351.5 203.6 353 203.8 350 202.5C347 201.2 348.2 201 347.5 198.8C346.8 196.5 346.8 199.1 347.5 195Z" fill="#ea3843"/>
<path d="M448.7 237.7C448.7 234.7 448.5 235.4 450.6 232.7C452.7 229.9 452.6 230.1 455.6 228.6C458.6 227.2 457.6 227.4 460.6 227.9C463.7 228.3 462.7 228.2 465.7 230.2C468.7 232.1 468.1 231.5 470.7 234.6C473.3 237.6 473.3 237.4 474.5 240.2C475.6 243 475.6 242.3 474.5 244C473.3 245.7 474.1 245.3 470.7 245.8C467.3 246.4 467.7 246.1 463.2 245.8C458.6 245.6 459.4 245.9 455.6 245C451.9 244 452.7 244.9 450.6 242.7C448.5 240.5 448.7 240.7 448.7 237.7Z" fill="#ea3843"/>
<path d="M510.2 421C510.1 415.8 509.6 417.1 511.5 413.5C513.4 409.9 512.8 410.6 516.5 409C520.2 407.4 518.8 407.6 524 408C529.2 408.4 527.2 409 534 410.5C540.8 412 539 412.1 546.5 413C554 413.9 551.9 413.5 559 413.5C566.1 413.5 564.6 414.5 570.2 413C575.9 411.5 573.6 411.7 577.8 408.5C581.9 405.3 579.9 405.2 584 402.2C588.1 399.2 586.2 400.2 591.5 398.5C596.8 396.8 594.8 396.9 601.5 396.5C608.2 396.1 606.5 397 614 397.2C621.5 397.5 620.5 396.5 626.5 397.2C632.5 398 631 397.5 634 399.8C637 402 636.1 401.4 636.5 404.8C636.9 408.1 637.5 408 635.2 411C633 414 633.9 413.2 629 414.8C624.1 416.2 624.6 414.9 619 416C613.4 417.1 615.5 416.2 610.2 418.5C605 420.8 606 420.1 601.5 423.5C597 426.9 597.9 425.6 595.2 429.8C592.6 433.9 593.9 433.1 592.8 437.2C591.6 441.4 593.4 440.1 591.5 443.5C589.6 446.9 590.2 445.9 586.5 448.5C582.8 451.1 582.8 449.6 579 452.2C575.2 454.9 577 453.5 574 457.2C571 461 572 460.6 569 464.8C566 468.9 567.4 468 564 471C560.6 474 561.5 473.6 557.8 474.8C554 475.9 554.9 476.2 551.5 474.8C548.1 473.2 548.8 473.5 546.5 469.8C544.2 466 545.1 467.1 544 462.2C542.9 457.4 544.2 458.4 542.8 453.5C541.2 448.6 542 449.8 539 446C536 442.2 537.2 442.6 532.8 441C528.2 439.4 528.9 441.2 524 440.5C519.1 439.8 520.1 441.4 516.5 438.5C512.9 435.6 513.9 436.2 512 431C510.1 425.8 510.4 426.2 510.2 421Z" fill="#ea3843"/>
<path d="M459 477.2C459 473.6 459.2 474.8 461.5 471C463.8 467.2 462.8 468.5 466.5 464.8C470.2 461 468.8 461.9 474 458.5C479.2 455.1 478 455.8 484 453.5C490 451.2 488 452.5 494 451C500 449.5 499.1 449.1 504 448.5C508.9 447.9 507.2 447.1 510.2 449C513.2 450.9 511.8 450.4 514 454.8C516.2 459.1 515.1 457.9 517.8 463.5C520.4 469.1 520.7 467.9 522.8 473.5C524.8 479.1 524.5 477 524.5 482.2C524.5 487.5 524.8 486.5 522.8 491C520.7 495.5 521.5 494.4 517.8 497.2C514 500.1 515.1 499.4 510.2 500.5C505.4 501.6 506.4 502 501.5 501C496.6 500 498.5 500.2 494 497.2C489.5 494.2 491 494 486.5 491C482 488 484.2 488.9 479 487.2C473.8 485.6 474.2 486.8 469 485.5C463.8 484.2 464.5 485.5 461.5 483C458.5 480.5 459 480.9 459 477.2Z" fill="#ea3843"/>
<path d="M584.5 501C584.9 495.4 584.4 496.5 586.5 493.5C588.6 490.5 587.8 491.8 591.5 491C595.2 490.2 594.9 492.1 599 491C603.1 489.9 601.9 491 605.2 487.2C608.6 483.5 607.6 484.1 610.2 478.5C612.9 472.9 611.4 474.1 614 468.5C616.6 462.9 615.2 464.2 619 459.8C622.8 455.2 621.2 456.5 626.5 453.5C631.8 450.5 630.5 451.2 636.5 449.8C642.5 448.2 640.5 448.3 646.5 448.5C652.5 448.7 650.5 449 656.5 450.5C662.5 452 661.2 453 666.5 453.5C671.8 454 669.9 453.6 674 452.2C678.1 450.9 676.1 450.3 680.2 449C684.4 447.7 683.6 447 687.8 448C691.9 449 691.5 448.7 694 452.2C696.5 455.8 696 454.1 696 459.8C696 465.4 695.7 463.9 694 471C692.3 478.1 692.5 476 690.2 483.5C688 491 689.1 489.2 686.5 496C683.9 502.8 684.5 501.2 681.5 506C678.5 510.8 679.5 509.1 676.5 512C673.5 514.9 674.9 513.5 671.5 515.8C668.1 518 669 517.2 665.2 519.5C661.5 521.8 663.1 520.6 659 523.2C654.9 525.9 656 525.2 651.5 528.2C647 531.2 648.1 529.9 644 533.2C639.9 536.6 640.8 536.1 637.8 539.5C634.8 542.9 637.4 542.5 634 544.5C630.6 546.5 632.5 545.4 626.5 546.2C620.5 547.1 620.8 547.4 614 547.5C607.2 547.6 608.9 547.8 604 546.5C599.1 545.2 600.8 546.5 597.8 543.2C594.8 540 596.2 541 594 535.8C591.8 530.5 592.1 531.4 590.2 525.8C588.4 520.1 589.2 521.1 587.8 517C586.2 512.9 586.2 516.8 585.2 512C584.3 507.2 584.1 506.6 584.5 501Z" fill="#ea3843"/>
<path d="M499 537C499.4 532.9 498.9 533.6 501.5 530.8C504.1 527.9 503.6 528.2 507.8 527.5C511.9 526.8 511.1 526.5 515.2 528.2C519.4 530 518.7 529.5 521.5 533.2C524.3 537 523.4 535.9 524.5 540.8C525.6 545.6 525.4 544.6 525.2 549.5C525.1 554.4 525.9 553.2 524 557C522.1 560.8 522.4 560.5 519 562C515.6 563.5 516.1 563.1 512.8 562C509.4 560.9 510.4 561.2 507.8 558.2C505.1 555.2 506.2 556.1 504 552C501.8 547.9 501.8 549 500.2 544.5C498.8 540 498.6 541.1 499 537Z" fill="#ea3843"/>
<path d="M533.5 579.5C533.9 576.1 533.4 576.4 536.5 574.5C539.6 572.6 539.5 574.4 544 573.2C548.5 572.1 547.4 573.4 551.5 570.8C555.6 568.1 554.8 568.6 557.8 564.5C560.8 560.4 559.2 561.5 561.5 557C563.8 552.5 561.9 553.2 565.2 549.5C568.6 545.8 567.9 545.6 572.8 544.5C577.6 543.4 576.6 544.2 581.5 545.8C586.4 547.2 585.2 546.5 589 549.5C592.8 552.5 592.4 551.6 594 555.8C595.6 559.9 595.6 558.8 594.5 563.2C593.4 567.8 594.1 567.8 590.2 570.8C586.4 573.8 587.1 572.3 581.5 573.2C575.9 574.2 576.8 572.9 571.5 574C566.2 575.1 567.8 574.2 564 577C560.2 579.8 562 579.5 559 583.2C556 587 557.4 586.5 554 589.5C550.6 592.5 551.9 592.9 547.8 593.2C543.6 593.6 544 593 540.2 590.8C536.5 588.5 537.3 589.1 535.2 585.8C533.2 582.4 533.1 582.9 533.5 579.5Z" fill="#ea3843"/>
<path d="M209.2 290.3C207.8 284.5 208.9 287.3 209.8 282.8C210.7 278.2 210 279.2 212.3 275.2C214.6 271.3 213.6 271.9 217.3 269.6C221.1 267.2 220.3 267.8 224.9 267.4C229.4 267.1 227.5 267.3 232.4 268.3C237.3 269.3 235.6 269.3 241.2 270.8C246.9 272.3 246.4 272.7 251.3 273.3C256.1 274 251.9 272.9 257.5 273C263.1 273.1 262.5 273.9 270 273.8C277.5 273.6 275 272.5 282.5 272.5C290 272.5 288.2 274.1 295 273.8C301.8 273.4 299.8 273.1 305 271.2C310.2 269.4 309.1 270.5 312.5 267.5C315.9 264.5 315.5 265 316.2 261.2C317 257.5 317.2 258.4 315 255C312.8 251.6 312.1 253.4 308.8 250C305.4 246.6 305.2 247.5 303.8 243.8C302.2 240 302.2 240.9 303.8 237.5C305.2 234.1 304.6 234.6 308.8 232.5C312.9 230.4 311.9 230.9 317.5 230.5C323.1 230.1 323.8 230.6 327.5 231.2C331.2 231.9 327.7 230.7 330 232.7C332.3 234.6 332.4 233.2 335 237.7C337.7 242.2 335.8 242.1 338.8 247.7C341.8 253.4 341.3 251.3 345.1 256.5C348.9 261.8 348.5 259.7 351.4 265.3C354.2 271 353.4 269.3 354.5 275.4C355.6 281.4 354.2 279.4 355.1 285.4C356.1 291.5 356.2 290.1 357.6 295.5C359.1 300.9 358.7 298.8 360 303.5C361.3 308.2 361.6 306.5 362 311C362.4 315.5 363 314.8 361.2 318.5C359.5 322.2 360.4 321.2 356.2 323.5C352.1 325.8 353.1 324.1 347.5 326C341.9 327.9 343.5 327.1 337.5 329.8C331.5 332.4 333.5 331.4 327.5 334.8C321.5 338.1 323.1 337.2 317.5 341C311.9 344.8 314 343.9 308.8 347.2C303.5 350.6 305.6 350.2 300 352.2C294.4 354.3 296.8 354 290 354C283.2 354 285 352.8 277.5 352.2C270 351.7 271.8 352.8 265 352.2C258.2 351.7 260.2 352.8 255 350.5C249.8 348.2 251.6 348.7 247.5 344.8C243.4 340.8 245 342.1 241.2 337.2C237.5 332.4 239.1 333.8 235 328.5C230.9 323.2 232 325 227.5 319.8C223 314.5 223.9 316.2 220 311C216.1 305.8 217.7 308.5 214.5 302.2C211.3 296 210.6 296.1 209.2 290.3Z" fill="#d01b29"/>
<path d="M90.5 361C90.5 356.5 90.7 357.1 92 352.2C93.3 347.4 92.6 348.4 95 344.8C97.4 341.1 97.2 341 100 340.2C102.8 339.5 102.6 339.4 104.5 342.2C106.4 345.1 105.5 345.2 106.2 349.8C107 354.2 105.9 353.1 107 357.2C108.1 361.4 109.1 360.1 110 363.5C110.9 366.9 111.5 366.2 110 368.5C108.5 370.8 108.8 370.2 105 371C101.2 371.8 101.4 372.1 97.5 371C93.6 369.9 94.1 370.2 92 367.2C89.9 364.2 90.5 365.5 90.5 361Z" fill="#d01b29"/>
<path d="M139.5 348.5C139 343.8 138.6 343.6 139.5 339.8C140.4 335.9 139.7 337.2 142.5 335.5C145.3 333.8 145 333.9 148.8 334C152.5 334.1 152 333.9 155 336C158 338.1 158 337.6 158.8 341C159.5 344.4 159.4 343.6 157.5 347.2C155.6 350.9 155.9 350.2 152.5 353C149.1 355.8 149.6 355.8 146.2 356.5C142.9 357.2 143.3 357.9 141.2 355.5C139.2 353.1 140 353.2 139.5 348.5Z" fill="#d01b29"/>
<path d="M282.3 177 L293.5 520" fill="none" stroke="#262626" stroke-width="0.4" stroke-dasharray="17 5" opacity="0.6"/>
<path d="M289 385.5 L460 385 L505 388.5" fill="none" stroke="#262626" stroke-width="0.4" stroke-dasharray="17 5" opacity="0.6"/>
<path d="M456.8 212 L451.5 377" fill="none" stroke="#262626" stroke-width="0.4" stroke-dasharray="17 5" opacity="0.6"/>
<path d="M505 391 L499 512 L494 632" fill="none" stroke="#262626" stroke-width="0.4" stroke-dasharray="17 5" opacity="0.6"/>
<path d="M519 448.5 L560 452 L620 456 L700 453 L722 452" fill="none" stroke="#262626" stroke-width="0.4" stroke-dasharray="17 5" opacity="0.6"/>
<path d="M609 604.5 L611.5 612 L627.8 624.5" fill="none" stroke="#262626" stroke-width="0.4" stroke-dasharray="17 5" opacity="0.6"/>
<path d="M497.8 549.5 L514 553.2 L524 562 L536.5 569.5 L559 589.5 L576.5 593.2 L596.5 597 L614 598.2 L626.5 594.5 L631.5 587 L627.8 583.2 L624 589.5 L626.5 595.8" fill="none" stroke="#262626" stroke-width="0.4" stroke-dasharray="17 5" opacity="0.6"/>
<path d="M551 636 L555.2 631.5 L559.8 635 L559 639 L554.8 640.5 L551.5 639Z" fill="#fff" stroke="#6b6b5a" stroke-width="0.5"/>
</g>
<path d="M7.5 341.1 L8.8 335.5 L10.3 330.5 L12.6 328 L13.1 333 L15.1 336.8 L17.6 339.3 L18.8 334.3 L22 328 L25.1 324.2 L31.4 319.8 L37.7 314.8 L42.7 308.9 L47.7 304.1 L54 300.4 L58 295.6 L59.7 297.8 L64.1 297.2 L70.3 298.5 L77.9 293.4 L81.7 288.8 L90.5 286.8 L95.5 285.3 L99.2 280.2 L104.3 279.2 L109.3 280 L114.3 277.7 L123.1 274.2 L130.7 270.2 L136.9 265.8 L140.7 261.4 L143.8 255.1 L144.5 250.1 L147 246.3 L148.2 243.2 L152 240.7 L156.4 237.5 L157 233.8 L153.9 232.5 L154.5 230 L153 225 L152 220 L156.2 215 L161.2 210.5 L163 205 L166.2 200.5 L169.5 205 L172.5 211.2 L176.2 217.5 L179.2 223 L180.5 216.2 L183.8 214.5 L178.8 207.5 L176.2 202.5 L177 195 L181.2 194.5 L185 197.5 L191.2 199.5 L194.5 195 L192.5 187.5 L193.8 181.2 L200 176.2 L205.5 170 L208 162 L214.5 155 L220 156.2 L223 147 L228.8 150.5 L237 142.5 L243.8 144.5 L250 145 L256.2 151.2 L262 157 L265.5 160.5 L264.5 168.8 L263.8 175 L267 170 L268.8 175 L269.5 164.5 L273.8 161.5 L280 163 L287.5 164 L291.2 167.5 L294.5 164.5 L295.5 169.5 L297 160 L291.2 154.5 L288.8 150 L295 143 L298.8 135.5 L303.8 127.5 L310 118.8 L315.5 112 L322.5 106.2 L326.2 105 L331.2 108.8 L340 108 L348 107.5 L352 103.8 L352.5 97 L348 93.8 L342 91.2 L335.5 87.5 L342 85.5 L346.2 87 L350.5 82 L352.5 88.8 L360 93 L367 95.5 L368.8 92 L372.5 98.8 L380 100 L386.2 102 L395 102 L400 105.5 L405 107.5 L412.5 103 L420 99.5 L425 95 L430.5 90 L435.5 83.8 L434.5 88 L428.8 93.8 L422.5 98 L417.5 103.8 L423.8 105.5 L427.5 102 L431.2 102.5 L436.2 107 L438 110 L435.5 115.5 L430.5 120 L432 126.2 L425 128.8 L418.8 130 L416.2 135.5 L417.5 141.2 L415 147.5 L411.2 153.8 L408 158 L409.5 163.8 L416.2 168 L425 173.8 L432.5 178.8 L440 182.5 L447.5 187 L452.5 191.2 L460 197.5 L465 200.5 L475 203 L480 208.8 L486.2 213 L493.8 219.5 L496.5 220.5 L507.8 218.8 L514 212.5 L519 202.5 L522.8 192.5 L525.2 182.5 L527.8 170 L529 157.5 L527.8 145 L531.5 132.5 L533.5 123.8 L532 117.5 L536.5 112.5 L540.2 107.5 L542 100 L543.5 92.5 L545.2 85.5 L547.8 82.5 L551.5 81.2 L554 85 L557 92.5 L559 102.5 L564 107.5 L562.8 115 L567.8 122.5 L569 132.5 L570.2 142.5 L572 152.5 L574 158.8 L581.5 157.5 L587.8 155.5 L589 161.2 L595.2 166.2 L601.5 172 L600.2 180 L602 190 L603.5 200 L607.8 208.8 L611 217.5 L612 227.5 L610.2 235 L614 240 L615.2 250 L621.5 256.2 L627.8 262.5 L634 265.5 L637.8 272.5 L644 277.5 L650.2 282.5 L656.5 286.2 L660.2 291 L662.8 298.5 L665.2 306 L667.8 316 L670.2 324.8 L676.5 328.5 L679 336 L686.5 331 L689 341 L687.8 351 L694 356 L697.8 362.2 L704 368.5 L709 377.2 L714 386 L717.8 393.5 L725.2 389.8 L728.5 384.8 L727.8 391 L722.8 401 L721.5 411 L720.2 421 L722.8 431 L724.5 436 L722.8 444.8 L721.5 453.5 L722.8 463.5 L720.2 473.5 L717.8 483.5 L714 493.5 L711.5 503.5 L707.8 512 L700.2 519.5 L694 529.5 L689 538.2 L684 540.8 L676.5 548.2 L671.5 557 L666.5 565.8 L661.5 574.5 L657.8 584.5 L651.5 594.5 L646.5 604.5 L644 614.5 L640.2 622 L639 629.5 L635.2 634.5 L627.8 635.8 L619 637 L609 639.5 L599 643.2 L591.5 645.8 L582.8 649.5 L580.2 655.8 L577.8 658.2 L575.2 653.2 L571.5 650.8 L567.8 647 L564 643 L560.2 642 L555.2 642.2 L550.2 641 L545.2 641.5 L541.5 643.8 L532.8 649.5 L526.5 645.8 L519 642 L511.5 637 L504 637 L499 638.2 L494 630.8 L486.5 628.2 L479 619.5 L474 609.5 L473.5 607 L475.2 599.5 L472 590 L466.5 583.2 L461.5 578.2 L455.2 577.5 L449 579 L452.8 572 L455.2 563.2 L452 555.8 L449 550.8 L446 557 L443.5 565 L439 569 L434 570 L427.8 571.5 L429 565.8 L436.5 564 L439 557 L441 548.2 L444.5 542 L447.8 535.8 L449 529.5 L446 525.8 L444.5 518.2 L442.8 525.8 L440.2 533.2 L434 540.8 L426.5 548.2 L419 555 L414 559.5 L416 565.8 L411.5 560.8 L405.2 557.5 L400.2 555 L402.8 549.5 L400.2 542 L395.2 533.2 L390.2 527 L387.8 523.2 L382.8 519.5 L380.2 515 L375 512.5 L370 507.5 L360 505.5 L350 504.5 L342.5 501.2 L336.2 498.8 L331.2 495.5 L325 497.5 L312.5 498 L300 499.5 L290 502 L280 506.2 L270 510 L260 513 L250 513.8 L241.2 515 L235 520 L227.5 524.5 L220 528.8 L214.5 533 L212.5 540 L207.5 547 L200 550.5 L190 552 L180 553.8 L175 552 L165 553 L155 555 L145 558.8 L140 562.5 L137.5 567.5 L130 570 L125 573.8 L120 580 L115 582.5 L110 583.8 L100 584.5 L90 585 L82.5 583 L72.5 579.5 L65.5 577.5 L62 570 L61.2 560 L65 563.8 L68.8 560 L71.2 550 L71.2 540 L68.8 530 L65.5 526.2 L66.2 520 L62.5 510 L56.2 500 L51.2 490 L50 480 L46.2 470 L40 460 L32.5 450 L27.5 440 L25.1 436.5 L22 431.4 L18.8 427.7 L17.6 425.2 L15.1 424.5 L11.3 421.4 L7.5 417 L4.4 412.6 L1.9 407.6 L1.3 404.4 L3.1 405.7 L5.7 410.1 L8.8 414.5 L12.6 418.9 L17 422.7 L18.8 423.9 L20.7 421.4 L18.8 417.6 L16.3 413.9 L13.2 409.5 L11.3 405.7 L11.1 403.2 L13.8 405.7 L16.3 409.5 L18.8 413.2 L20.7 416.4 L22 418.3 L24.5 419.5 L26.6 416.4 L26.4 412.6 L25.1 408.8 L22.6 405.1 L20.1 401.3 L17 398.2 L14.4 395 L12.6 391.2 L10.7 387.5 L6.9 382.5 L6 376.8 L6.3 369.9 L7.5 363.6 L10.7 358.6 L10.1 353.6 L9.4 348.5 L6.3 346 L5.7 341Z" fill="none" stroke="#6b6b5a" stroke-width="0.6" stroke-linejoin="round"/>
<path d="M300 99.5 L303.8 93.8 L306.2 88 L313.8 90 L321.2 88 L327.5 87 L330.5 92 L326.2 97 L320 99.5 L317.5 102 L310 99.5Z" fill="#f3f0c9" stroke="#6b6b5a" stroke-width="0.6"/>
<path d="M321.2 88 L327.5 87 L330.5 92 L326.2 97 L320 99.5 L322.5 93.8Z" fill="#e9e43a" stroke="#6b6b5a" stroke-width="0.6"/>
<path d="M427 141.2 L432.5 137.5 L437.5 138.8 L436.2 143.8 L438.8 149.5 L432.5 150 L427.5 147Z" fill="#e9e43a" stroke="#6b6b5a" stroke-width="0.6"/>
<path d="M422 580.8 L429 579 L439 578.2 L446.5 581.5 L447.8 584 L439 586.5 L429 587 L422.8 585.8Z" fill="#f7c167" stroke="#6b6b5a" stroke-width="0.6"/>
<path d="M536.4 667 L538.3 664.9 L540.5 666.4 L540.8 671.4 L539.6 675.8 L536.7 676.7 L536.2 671.4Z" fill="#e9e43a" stroke="#6b6b5a" stroke-width="0.6"/>
<path d="M598.2 675.8 L600.5 673.7 L603 675.2 L606.2 680.8 L605.5 684.6 L603 684.6 L600.5 680.2Z" fill="#e9e43a" stroke="#6b6b5a" stroke-width="0.6"/>
<path d="M600.5 687.5 L604.9 686.2 L608 688.7 L606.2 690.5 L603 691.5Z" fill="#f7c167" stroke="#6b6b5a" stroke-width="0.6"/>
<path d="M480.2 197.5 L484 194.5 L489 193.8 L490.2 197 L486.5 200 L481.5 200.5Z" fill="#bcd7bd" stroke="#6b6b5a" stroke-width="0.6"/>
<path d="M544 79.4 L546.5 78.2 L548.7 78.8 L547.1 81.1 L544.6 81.9Z" fill="#f3f0c9" stroke="#6b6b5a" stroke-width="0.6"/>
<path d="M545.9 70 L549 70 L549.2 71.5 L547.1 71.8Z" fill="#996535" stroke="#6b6b5a" stroke-width="0.6"/>
<path d="M484 206.2 L487 206.2 L487 208.2 L484 208.2Z" fill="#f3f0c9" stroke="#6b6b5a" stroke-width="0.6"/>
<clipPath id="tas"><path d="M546.5 695.3 L548.4 689.6 L552.8 690.2 L557.2 692.1 L561.6 695.3 L567.8 698.4 L574.1 700.9 L580.4 699.7 L587.9 698.4 L594.2 696.5 L599.2 694.6 L602.4 696.5 L604.3 700.9 L603.6 706.6 L603 712.9 L602.4 719.1 L601.8 723.5 L601.1 727.9 L598 730.5 L596.1 735.5 L594.2 739.2 L593.6 744.3 L590.5 743 L587.9 738 L585.4 741.8 L582.9 746.8 L580.4 750.5 L575.4 751.1 L570.4 750.3 L565.3 750.5 L562.8 748 L560.3 741.8 L557.8 736.7 L555.9 731.7 L554 726.7 L553.4 721.7 L551.5 716.6 L549 710.4 L547.1 702.8Z"/></clipPath>
<g clip-path="url(#tas)"><rect x="520" y="680" width="100" height="100" fill="#e9e43a" stroke="none"/><path d="M555.9 733C556.8 725.4 556.7 730.8 558.4 727.9C560.1 725.1 559.1 726 561.6 723.5C564 721.1 563.2 721.8 566.6 719.8C570 717.7 569.1 717.9 572.9 716.6C576.6 715.3 575.4 715.2 579.1 715.4C582.9 715.6 582 717.6 585.4 717.3C588.8 716.9 587.8 716.6 590.5 714.1C593.1 711.7 592.1 712.5 594.2 709.1C596.3 705.7 595.8 707.1 597.4 702.8C598.9 698.5 594.8 697.3 599.5 694.6C604.2 692 609 676.5 613.1 694C617.1 711.5 630.4 735.4 613.1 753.1C595.7 770.8 572.4 759.1 555.3 753.1C538.1 747 555 740.5 555.9 733Z" fill="#f7c167" stroke="#2a2a2a" stroke-width="0.7"/></g>
<path d="M546.5 695.3 L548.4 689.6 L552.8 690.2 L557.2 692.1 L561.6 695.3 L567.8 698.4 L574.1 700.9 L580.4 699.7 L587.9 698.4 L594.2 696.5 L599.2 694.6 L602.4 696.5 L604.3 700.9 L603.6 706.6 L603 712.9 L602.4 719.1 L601.8 723.5 L601.1 727.9 L598 730.5 L596.1 735.5 L594.2 739.2 L593.6 744.3 L590.5 743 L587.9 738 L585.4 741.8 L582.9 746.8 L580.4 750.5 L575.4 751.1 L570.4 750.3 L565.3 750.5 L562.8 748 L560.3 741.8 L557.8 736.7 L555.9 731.7 L554 726.7 L553.4 721.7 L551.5 716.6 L549 710.4 L547.1 702.8Z" fill="none" stroke="#6b6b5a" stroke-width="0.6"/>
<circle cx="32.04" cy="304.37" r="1.5" fill="#42aa50"/>
<text x="358.7" y="269.7" font-size="17.5" font-weight="bold" fill="#1a1a1a" textLength="27" lengthAdjust="spacingAndGlyphs">NT</text></g>
<g id="colorbar"><rect x="826.4" y="161.50" width="41.9" height="34.66" fill="#996535"/>
<rect x="826.4" y="195.86" width="41.9" height="34.66" fill="#d01b29"/>
<rect x="826.4" y="230.21" width="41.9" height="34.66" fill="#ea3843"/>
<rect x="826.4" y="264.57" width="41.9" height="34.66" fill="#e4898d"/>
<rect x="826.4" y="298.93" width="41.9" height="34.66" fill="#f7c167"/>
<rect x="826.4" y="333.29" width="41.9" height="34.66" fill="#e9e43a"/>
<rect x="826.4" y="367.64" width="41.9" height="34.66" fill="#f3f0c9"/>
<rect x="826.4" y="402.00" width="41.9" height="34.66" fill="#bcd7bd"/>
<rect x="826.4" y="436.36" width="41.9" height="34.66" fill="#74b85d"/>
<rect x="826.4" y="470.71" width="41.9" height="34.66" fill="#42aa50"/>
<rect x="826.4" y="505.07" width="41.9" height="34.66" fill="#91cad8"/>
<rect x="826.4" y="539.43" width="41.9" height="34.66" fill="#30b6e8"/>
<rect x="826.4" y="573.79" width="41.9" height="34.66" fill="#5165ab"/>
<rect x="826.4" y="608.14" width="41.9" height="34.66" fill="#2456a3"/>
<line x1="826.4" x2="868.3" y1="195.86" y2="195.86" stroke="#444" stroke-width="0.5" opacity="0.7"/>
<line x1="826.4" x2="868.3" y1="230.21" y2="230.21" stroke="#444" stroke-width="0.5" opacity="0.7"/>
<line x1="826.4" x2="868.3" y1="264.57" y2="264.57" stroke="#444" stroke-width="0.5" opacity="0.7"/>
<line x1="826.4" x2="868.3" y1="298.93" y2="298.93" stroke="#444" stroke-width="0.5" opacity="0.7"/>
<line x1="826.4" x2="868.3" y1="333.29" y2="333.29" stroke="#444" stroke-width="0.5" opacity="0.7"/>
<line x1="826.4" x2="868.3" y1="367.64" y2="367.64" stroke="#444" stroke-width="0.5" opacity="0.7"/>
<line x1="826.4" x2="868.3" y1="402.00" y2="402.00" stroke="#444" stroke-width="0.5" opacity="0.7"/>
<line x1="826.4" x2="868.3" y1="436.36" y2="436.36" stroke="#444" stroke-width="0.5" opacity="0.7"/>
<line x1="826.4" x2="868.3" y1="470.71" y2="470.71" stroke="#444" stroke-width="0.5" opacity="0.7"/>
<line x1="826.4" x2="868.3" y1="505.07" y2="505.07" stroke="#444" stroke-width="0.5" opacity="0.7"/>
<line x1="826.4" x2="868.3" y1="539.43" y2="539.43" stroke="#444" stroke-width="0.5" opacity="0.7"/>
<line x1="826.4" x2="868.3" y1="573.79" y2="573.79" stroke="#444" stroke-width="0.5" opacity="0.7"/>
<line x1="826.4" x2="868.3" y1="608.14" y2="608.14" stroke="#444" stroke-width="0.5" opacity="0.7"/>
<rect x="826.4" y="161.5" width="41.9" height="481.0" fill="none" stroke="#555" stroke-width="0.8"/>
<text x="876.9" y="204.0" font-size="20.2">3.0</text>
<text x="876.9" y="238.2" font-size="20.2">2.5</text>
<text x="876.9" y="272.4" font-size="20.2">2.0</text>
<text x="876.9" y="306.5" font-size="20.2">1.5</text>
<text x="876.9" y="340.7" font-size="20.2">1.0</text>
<text x="876.9" y="374.9" font-size="20.2">0.5</text>
<text x="876.9" y="409.1" font-size="20.2">0.0</text>
<text x="876.9" y="443.3" font-size="20.2">–0.5</text>
<text x="876.9" y="477.4" font-size="20.2">–1.0</text>
<text x="876.9" y="511.6" font-size="20.2">–1.5</text>
<text x="876.9" y="545.8" font-size="20.2">–2.0</text>
<text x="876.9" y="580.0" font-size="20.2">–2.5</text>
<text x="876.9" y="614.2" font-size="20.2">–3.0</text>
<text transform="translate(940 240.3) rotate(90)" font-size="20.3" textLength="323.5" lengthAdjust="spacingAndGlyphs">Maximum temperature anomaly (°C)</text></g>
<g><polygon points="1105.4,85.9 1268.8,108.6 1432.1,204.5 1595.4,242.5 1758.7,195.9 1922.0,173.2 2085.4,146.1 2085.4,318.2 1922.0,318.2 1758.7,318.2 1595.4,318.2 1432.1,318.4 1268.8,318.4 1105.4,318.4" fill="#f4f5f7" fill-opacity="1"/>
<polygon points="1105.4,187.7 1268.8,234.3 1432.1,272.3 1595.4,289.5 1758.7,275.9 1922.0,266.9 2085.4,255.6 2085.4,305.0 1922.0,302.5 1758.7,306.2 1595.4,305.5 1432.1,311.2 1268.8,297.2 1105.4,297.2" fill="#2a2a2c" fill-opacity="0.047"/>
<polygon points="1105.4,232.0 1268.8,181.0 1432.1,271.4 1595.4,312.1 1758.7,308.5 1922.0,305.3 2085.4,263.7 2085.4,305.0 1922.0,305.3 1758.7,308.5 1595.4,312.1 1432.1,311.2 1268.8,297.2 1105.4,297.2" fill="#2a2a2c" fill-opacity="0.032"/>
<polyline points="1105.4,232.0 1268.8,181.0 1432.1,271.4 1595.4,312.1 1758.7,308.5 1922.0,305.3 2085.4,263.7" fill="none" stroke="#93acd8" stroke-width="1" stroke-dasharray="7 3"/>
<polyline points="1105.4,318.4 1268.8,318.4 1432.1,318.4 1595.4,318.2 1758.7,318.2 1922.0,318.2 2085.4,318.2" fill="none" stroke="#93acd8" stroke-width="1" stroke-dasharray="7 3"/>
<polyline points="1105.4,187.7 1268.8,234.3 1432.1,272.3 1595.4,289.5 1758.7,275.9 1922.0,266.9 2085.4,255.6" fill="none" stroke="#edb0aa" stroke-width="1" stroke-dasharray="7 3"/>
<polyline points="1105.4,297.2 1268.8,297.2 1432.1,311.2 1595.4,305.5 1758.7,306.2 1922.0,302.5 2085.4,305.0" fill="none" stroke="#edb0aa" stroke-width="1" stroke-dasharray="7 3"/>
<polyline points="1105.4,85.9 1268.8,108.6 1432.1,204.5 1595.4,242.5 1758.7,195.9 1922.0,173.2 2085.4,146.1" fill="none" stroke="#4fae62" stroke-width="0.85" stroke-dasharray="6 2"/>
<polyline points="1105.4,268.2 1268.8,272.0 1432.1,297.5 1595.4,289.5 1758.7,289.5 1922.0,281.4 2085.4,284.0" fill="none" stroke="#4fae62" stroke-width="0.85" stroke-dasharray="6 2"/>
<polyline points="1105.4,310.8 1268.8,311.7 1432.1,310.3 1595.4,315.7 1758.7,314.8 1922.0,315.7 2085.4,315.7" fill="none" stroke="#6b8ecb" stroke-width="1.9" stroke-linejoin="round"/>
<circle cx="1105.4" cy="310.8" r="3.5" fill="#6b8ecb"/>
<circle cx="1268.8" cy="311.7" r="3.5" fill="#6b8ecb"/>
<circle cx="1432.1" cy="310.3" r="3.5" fill="#6b8ecb"/>
<circle cx="1595.4" cy="315.7" r="3.5" fill="#6b8ecb"/>
<circle cx="1758.7" cy="314.8" r="3.5" fill="#6b8ecb"/>
<circle cx="1922.0" cy="315.7" r="3.5" fill="#6b8ecb"/>
<circle cx="2085.4" cy="315.7" r="3.5" fill="#6b8ecb"/>
<polyline points="1105.4,257.4 1268.8,272.8 1432.1,297.2 1595.4,299.0 1758.7,294.9 1922.0,289.0 2085.4,287.2" fill="none" stroke="#ea6d68" stroke-width="1.9" stroke-linejoin="round"/>
<circle cx="1105.4" cy="257.4" r="3.5" fill="#ea6d68"/>
<circle cx="1268.8" cy="272.8" r="3.5" fill="#ea6d68"/>
<circle cx="1432.1" cy="297.2" r="3.5" fill="#ea6d68"/>
<circle cx="1595.4" cy="299.0" r="3.5" fill="#ea6d68"/>
<circle cx="1758.7" cy="294.9" r="3.5" fill="#ea6d68"/>
<circle cx="1922.0" cy="289.0" r="3.5" fill="#ea6d68"/>
<circle cx="2085.4" cy="287.2" r="3.5" fill="#ea6d68"/>
<polyline points="1105.4,186.4 1268.8,201.7 1432.1,263.3 1595.4,268.2 1758.7,252.9 1922.0,237.5 2085.4,228.9" fill="none" stroke="#2bab4a" stroke-width="1.9" stroke-linejoin="round"/>
<circle cx="1105.4" cy="186.4" r="3.5" fill="#2bab4a"/>
<circle cx="1268.8" cy="201.7" r="3.5" fill="#2bab4a"/>
<circle cx="1432.1" cy="263.3" r="3.5" fill="#2bab4a"/>
<circle cx="1595.4" cy="268.2" r="3.5" fill="#2bab4a"/>
<circle cx="1758.7" cy="252.9" r="3.5" fill="#2bab4a"/>
<circle cx="1922.0" cy="237.5" r="3.5" fill="#2bab4a"/>
<circle cx="2085.4" cy="228.9" r="3.5" fill="#2bab4a"/>
<rect x="1094.2" y="24.8" width="1002.2" height="305.5" fill="none" stroke="#4a4a4a" stroke-width="0.9"/>
<line x1="1105.4" x2="1105.4" y1="330.3" y2="338.9" stroke="#5a5a5a" stroke-width="1"/>
<text x="1105.4" y="355.2" font-size="18.5" text-anchor="middle">0–10</text>
<line x1="1268.8" x2="1268.8" y1="330.3" y2="338.9" stroke="#5a5a5a" stroke-width="1"/>
<text x="1268.8" y="355.2" font-size="18.5" text-anchor="middle">10–15</text>
<line x1="1432.1" x2="1432.1" y1="330.3" y2="338.9" stroke="#5a5a5a" stroke-width="1"/>
<text x="1432.1" y="355.2" font-size="18.5" text-anchor="middle">15–20</text>
<line x1="1595.4" x2="1595.4" y1="330.3" y2="338.9" stroke="#5a5a5a" stroke-width="1"/>
<text x="1595.4" y="355.2" font-size="18.5" text-anchor="middle">20–25</text>
<line x1="1758.7" x2="1758.7" y1="330.3" y2="338.9" stroke="#5a5a5a" stroke-width="1"/>
<text x="1758.7" y="355.2" font-size="18.5" text-anchor="middle">25–30</text>
<line x1="1922.0" x2="1922.0" y1="330.3" y2="338.9" stroke="#5a5a5a" stroke-width="1"/>
<text x="1922.0" y="355.2" font-size="18.5" text-anchor="middle">30–35</text>
<line x1="2085.4" x2="2085.4" y1="330.3" y2="338.9" stroke="#5a5a5a" stroke-width="1"/>
<text x="2085.4" y="355.2" font-size="18.5" text-anchor="middle">35–40</text>
<line x1="1086.2" x2="1094.2" y1="114.9" y2="114.9" stroke="#5a5a5a" stroke-width="1"/>
<text x="1083.2" y="121.3" font-size="20.3" text-anchor="end">0.6</text>
<line x1="1086.2" x2="1094.2" y1="183.2" y2="183.2" stroke="#5a5a5a" stroke-width="1"/>
<text x="1083.2" y="189.6" font-size="20.3" text-anchor="end">0.4</text>
<line x1="1086.2" x2="1094.2" y1="250.3" y2="250.3" stroke="#5a5a5a" stroke-width="1"/>
<text x="1083.2" y="256.7" font-size="20.3" text-anchor="end">0.2</text>
<line x1="1086.2" x2="1094.2" y1="318.0" y2="318.0" stroke="#5a5a5a" stroke-width="1"/>
<text x="1083.2" y="324.4" font-size="20.3" text-anchor="end">0</text>
<text x="1105.6" y="53.0" font-size="20.0">Selected regression estimates by level of average</text>
<text x="1105.6" y="74.2" font-size="20.0">daily load (ADL) (with 95% CI in grey)</text>
<text x="1595.0" y="383.5" font-size="20.0" text-anchor="middle">Daily average temperature (°C)</text>
<text transform="translate(1038.6 177.5) rotate(-90)" font-size="20.0" text-anchor="middle">Probability</text>
<text x="1023.4" y="24.0" font-size="31" font-weight="bold" fill="#231f20" textLength="17.4" lengthAdjust="spacingAndGlyphs">b</text>
<rect x="1854.3" y="36.3" width="18.6" height="18.6" fill="#f3f3f5" stroke="#edb0aa" stroke-width="1" stroke-dasharray="4.5 2"/>
<line x1="1855.3" x2="1871.9" y1="45.6" y2="45.6" stroke="#ea6d68" stroke-width="1.6"/>
<circle cx="1863.6" cy="45.6" r="3.4" fill="#ea6d68"/>
<text x="1883.6" y="53.4" font-size="20.0" textLength="92.4" lengthAdjust="spacingAndGlyphs">All houses</text>
<rect x="1853.1" y="62.4" width="18.6" height="18.6" fill="#f3f3f5" stroke="#4fae62" stroke-width="1" stroke-dasharray="4.5 2"/>
<line x1="1854.1" x2="1870.7" y1="71.7" y2="71.7" stroke="#2bab4a" stroke-width="1.6"/>
<circle cx="1862.4" cy="71.7" r="3.4" fill="#2bab4a"/>
<text x="1880.8" y="81.1" font-size="20.0" textLength="190.2" lengthAdjust="spacingAndGlyphs">High ADL (90–100%)</text>
<rect x="1853.1" y="91.1" width="18.6" height="18.6" fill="#f3f3f5" stroke="#93acd8" stroke-width="1" stroke-dasharray="4.5 2"/>
<line x1="1854.1" x2="1870.7" y1="100.4" y2="100.4" stroke="#6b8ecb" stroke-width="1.6"/>
<circle cx="1862.4" cy="100.4" r="3.4" fill="#6b8ecb"/>
<text x="1878.6" y="107.8" font-size="20.0" textLength="163.4" lengthAdjust="spacingAndGlyphs">Low ADL (0–10%)</text>
<text x="2084.3" y="221.6" font-size="20.0" text-anchor="end">High</text>
<text x="2084.3" y="279.6" font-size="20.0" text-anchor="end">All</text>
<text x="2084.3" y="309.9" font-size="20.0" text-anchor="end">Low</text></g><g><polygon points="1105.1,478.3 1268.5,573.3 1431.8,737.6 1595.1,764.5 1758.4,704.7 1921.7,662.2 2085.1,637.6 2085.1,668.3 1921.7,679.0 1758.4,718.0 1595.1,764.5 1431.8,758.9 1268.5,612.4 1105.1,535.3" fill="#eef0ef" fill-opacity="1"/>
<polygon points="1105.1,606.8 1268.5,662.2 1431.8,749.4 1595.1,764.5 1758.4,745.4 1921.7,729.2 2085.1,712.5 2085.1,723.6 1921.7,736.0 1758.4,751.0 1595.1,764.5 1431.8,757.2 1268.5,675.0 1105.1,624.7" fill="#eeeeee" fill-opacity="1"/>
<polygon points="1105.1,737.6 1268.5,752.2 1431.8,760.5 1595.1,764.5 1758.4,756.6 1921.7,756.0 2085.1,758.9 2085.1,775.6 1921.7,761.7 1758.4,761.7 1595.1,764.5 1431.8,771.7 1268.5,767.3 1105.1,760.0" fill="#eef0f1" fill-opacity="1"/>
<polyline points="1105.1,737.6 1268.5,752.2 1431.8,760.5 1595.1,764.5 1758.4,756.6 1921.7,756.0 2085.1,758.9" fill="none" stroke="#93acd8" stroke-width="1" stroke-dasharray="7 3"/>
<polyline points="1105.1,760.0 1268.5,767.3 1431.8,771.7 1595.1,764.5 1758.4,761.7 1921.7,761.7 2085.1,775.6" fill="none" stroke="#93acd8" stroke-width="1" stroke-dasharray="7 3"/>
<polyline points="1105.1,606.8 1268.5,662.2 1431.8,749.4 1595.1,764.5 1758.4,745.4 1921.7,729.2 2085.1,712.5" fill="none" stroke="#edb0aa" stroke-width="1" stroke-dasharray="7 3"/>
<polyline points="1105.1,624.7 1268.5,675.0 1431.8,757.2 1595.1,764.5 1758.4,751.0 1921.7,736.0 2085.1,723.6" fill="none" stroke="#edb0aa" stroke-width="1" stroke-dasharray="7 3"/>
<polyline points="1105.1,478.3 1268.5,573.3 1431.8,737.6 1595.1,764.5 1758.4,704.7 1921.7,662.2 2085.1,637.6" fill="none" stroke="#4fae62" stroke-width="0.85" stroke-dasharray="6 2"/>
<polyline points="1105.1,535.3 1268.5,612.4 1431.8,758.9 1595.1,764.5 1758.4,718.0 1921.7,679.0 2085.1,668.3" fill="none" stroke="#4fae62" stroke-width="0.85" stroke-dasharray="6 2"/>
<polyline points="1105.1,749.4 1268.5,759.4 1431.8,766.2 1595.1,764.5 1758.4,759.4 1921.7,758.9 2085.1,766.7" fill="none" stroke="#6b8ecb" stroke-width="1.9" stroke-linejoin="round"/>
<circle cx="1105.1" cy="749.4" r="3.5" fill="#6b8ecb"/>
<circle cx="1268.5" cy="759.4" r="3.5" fill="#6b8ecb"/>
<circle cx="1431.8" cy="766.2" r="3.5" fill="#6b8ecb"/>
<circle cx="1595.1" cy="764.5" r="3.5" fill="#6b8ecb"/>
<circle cx="1758.4" cy="759.4" r="3.5" fill="#6b8ecb"/>
<circle cx="1921.7" cy="758.9" r="3.5" fill="#6b8ecb"/>
<circle cx="2085.1" cy="766.7" r="3.5" fill="#6b8ecb"/>
<polyline points="1105.1,615.8 1268.5,668.9 1431.8,753.3 1595.1,764.5 1758.4,748.3 1921.7,732.6 2085.1,718.1" fill="none" stroke="#ea6d68" stroke-width="1.9" stroke-linejoin="round"/>
<circle cx="1105.1" cy="615.8" r="3.5" fill="#ea6d68"/>
<circle cx="1268.5" cy="668.9" r="3.5" fill="#ea6d68"/>
<circle cx="1431.8" cy="753.3" r="3.5" fill="#ea6d68"/>
<circle cx="1595.1" cy="764.5" r="3.5" fill="#ea6d68"/>
<circle cx="1758.4" cy="748.3" r="3.5" fill="#ea6d68"/>
<circle cx="1921.7" cy="732.6" r="3.5" fill="#ea6d68"/>
<circle cx="2085.1" cy="718.1" r="3.5" fill="#ea6d68"/>
<polyline points="1105.1,507.4 1268.5,592.9 1431.8,748.8 1595.1,764.5 1758.4,711.4 1921.7,670.0 2085.1,653.3" fill="none" stroke="#2bab4a" stroke-width="1.9" stroke-linejoin="round"/>
<circle cx="1105.1" cy="507.4" r="3.5" fill="#2bab4a"/>
<circle cx="1268.5" cy="592.9" r="3.5" fill="#2bab4a"/>
<circle cx="1431.8" cy="748.8" r="3.5" fill="#2bab4a"/>
<circle cx="1595.1" cy="764.5" r="3.5" fill="#2bab4a"/>
<circle cx="1758.4" cy="711.4" r="3.5" fill="#2bab4a"/>
<circle cx="1921.7" cy="670.0" r="3.5" fill="#2bab4a"/>
<circle cx="2085.1" cy="653.3" r="3.5" fill="#2bab4a"/>
<rect x="1094.2" y="419.3" width="1002.2" height="407.2" fill="none" stroke="#4a4a4a" stroke-width="0.9"/>
<line x1="1104.6" x2="1104.6" y1="826.5" y2="835.1" stroke="#5a5a5a" stroke-width="1"/>
<text x="1104.6" y="851.7" font-size="18.5" text-anchor="middle">0–10</text>
<line x1="1268.0" x2="1268.0" y1="826.5" y2="835.1" stroke="#5a5a5a" stroke-width="1"/>
<text x="1268.0" y="851.7" font-size="18.5" text-anchor="middle">10–15</text>
<line x1="1431.3" x2="1431.3" y1="826.5" y2="835.1" stroke="#5a5a5a" stroke-width="1"/>
<text x="1431.3" y="851.7" font-size="18.5" text-anchor="middle">15–20</text>
<line x1="1594.6" x2="1594.6" y1="826.5" y2="835.1" stroke="#5a5a5a" stroke-width="1"/>
<text x="1594.6" y="851.7" font-size="18.5" text-anchor="middle">20–25</text>
<line x1="1757.9" x2="1757.9" y1="826.5" y2="835.1" stroke="#5a5a5a" stroke-width="1"/>
<text x="1757.9" y="851.7" font-size="18.5" text-anchor="middle">25–30</text>
<line x1="1921.2" x2="1921.2" y1="826.5" y2="835.1" stroke="#5a5a5a" stroke-width="1"/>
<text x="1921.2" y="851.7" font-size="18.5" text-anchor="middle">30–35</text>
<line x1="2084.6" x2="2084.6" y1="826.5" y2="835.1" stroke="#5a5a5a" stroke-width="1"/>
<text x="2084.6" y="851.7" font-size="18.5" text-anchor="middle">35–40</text>
<line x1="1086.2" x2="1094.2" y1="497.0" y2="497.0" stroke="#5a5a5a" stroke-width="1"/>
<text x="1083.2" y="503.4" font-size="20.3" text-anchor="end">30</text>
<line x1="1086.2" x2="1094.2" y1="585.8" y2="585.8" stroke="#5a5a5a" stroke-width="1"/>
<text x="1083.2" y="592.2" font-size="20.3" text-anchor="end">20</text>
<line x1="1086.2" x2="1094.2" y1="674.5" y2="674.5" stroke="#5a5a5a" stroke-width="1"/>
<text x="1083.2" y="680.9" font-size="20.3" text-anchor="end">10</text>
<line x1="1086.2" x2="1094.2" y1="763.3" y2="763.3" stroke="#5a5a5a" stroke-width="1"/>
<text x="1083.2" y="769.7" font-size="20.3" text-anchor="end">0</text>
<text x="1105.6" y="447.6" font-size="20.0">Selected regression estimates by level of average</text>
<text x="1105.6" y="468.8" font-size="20.0">daily load (ADL) (with 95% CI in grey)</text>
<text x="1595.0" y="879.8" font-size="20.0" text-anchor="middle">Daily average temperature (°C)</text>
<text transform="translate(1038.6 617.0) rotate(-90)" font-size="20.0" text-anchor="middle">Daily electricity use (kWh)</text>
<text x="1023.9" y="419.2" font-size="31.3" font-weight="bold" fill="#231f20" textLength="14.9" lengthAdjust="spacingAndGlyphs">c</text>
<rect x="1854.3" y="431.0" width="18.6" height="18.6" fill="#f3f3f5" stroke="#edb0aa" stroke-width="1" stroke-dasharray="4.5 2"/>
<line x1="1855.3" x2="1871.9" y1="440.3" y2="440.3" stroke="#ea6d68" stroke-width="1.6"/>
<circle cx="1863.6" cy="440.3" r="3.4" fill="#ea6d68"/>
<text x="1883.6" y="447.6" font-size="20.0" textLength="92.4" lengthAdjust="spacingAndGlyphs">All houses</text>
<rect x="1853.1" y="456.7" width="18.6" height="18.6" fill="#f3f3f5" stroke="#4fae62" stroke-width="1" stroke-dasharray="4.5 2"/>
<line x1="1854.1" x2="1870.7" y1="466.0" y2="466.0" stroke="#2bab4a" stroke-width="1.6"/>
<circle cx="1862.4" cy="466.0" r="3.4" fill="#2bab4a"/>
<text x="1880.8" y="475.5" font-size="20.0" textLength="190.2" lengthAdjust="spacingAndGlyphs">High ADL (90–100%)</text>
<rect x="1853.1" y="484.7" width="18.6" height="18.6" fill="#f3f3f5" stroke="#93acd8" stroke-width="1" stroke-dasharray="4.5 2"/>
<line x1="1854.1" x2="1870.7" y1="494.0" y2="494.0" stroke="#6b8ecb" stroke-width="1.6"/>
<circle cx="1862.4" cy="494.0" r="3.4" fill="#6b8ecb"/>
<text x="1878.6" y="501.8" font-size="20.0" textLength="163.4" lengthAdjust="spacingAndGlyphs">Low ADL (0–10%)</text>
<text x="2084.3" y="636.0" font-size="20.0" text-anchor="end">High</text>
<text x="2084.3" y="707.0" font-size="20.0" text-anchor="end">All</text>
<text x="2084.3" y="752.2" font-size="20.0" text-anchor="end">Low</text></g>
<text x="8" y="19.7" font-size="31.3" font-weight="bold" fill="#231f20" textLength="16.5" lengthAdjust="spacingAndGlyphs">a</text>
</svg></body></html>
